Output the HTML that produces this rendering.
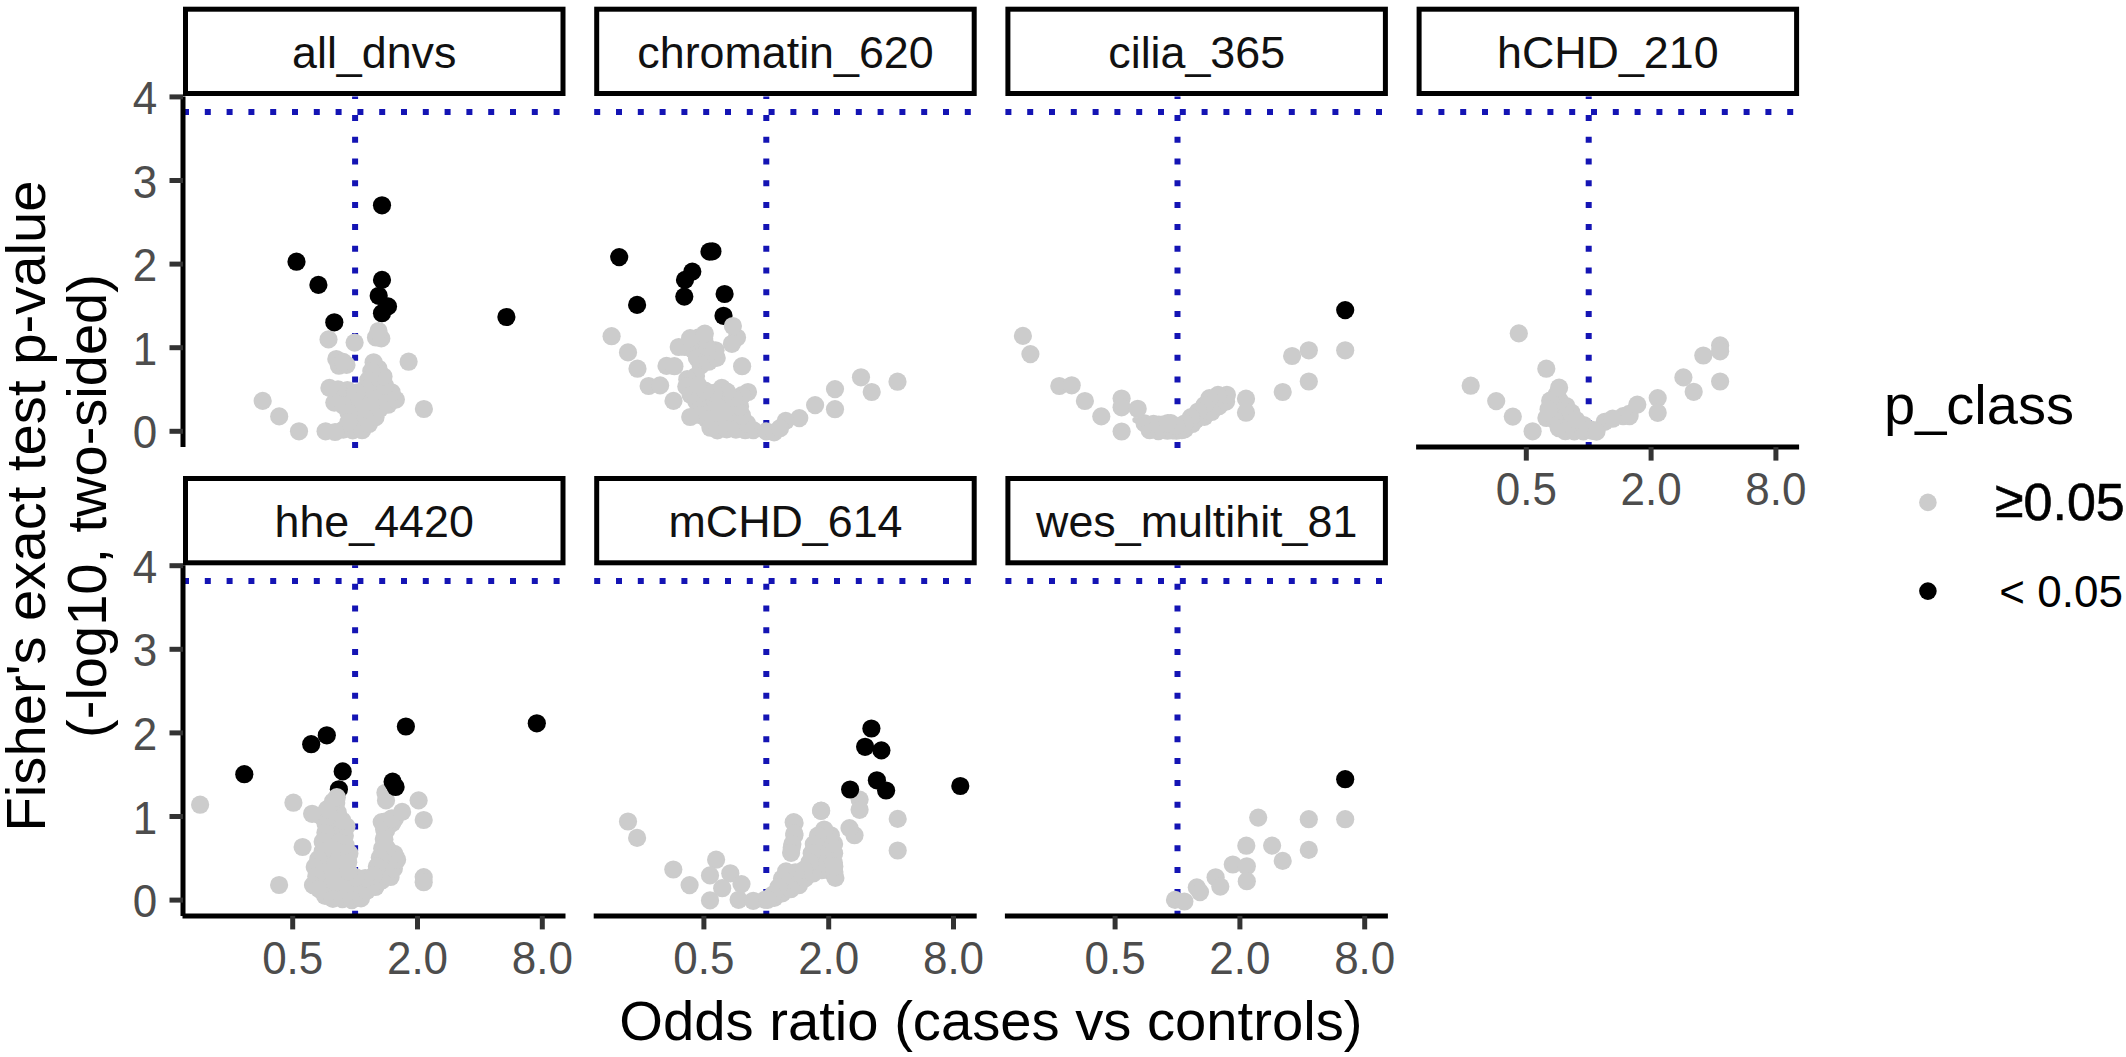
<!DOCTYPE html><html><head><meta charset="utf-8"><style>html,body{margin:0;padding:0;background:#fff;}svg{display:block}</style></head><body>
<svg width="2126" height="1057" viewBox="0 0 2126 1057" font-family='"Liberation Sans", Arial, Helvetica, sans-serif'>
<rect x="0" y="0" width="2126" height="1057" fill="#fff"/>
<line x1="183.0" y1="112.1" x2="565.5" y2="112.1" stroke="#1414b4" stroke-width="6" stroke-dasharray="6 15.8"/>
<line x1="355.1" y1="447.9" x2="355.1" y2="96.5" stroke="#1414b4" stroke-width="6" stroke-dasharray="6 15.8"/>
<line x1="594.2" y1="112.1" x2="976.7" y2="112.1" stroke="#1414b4" stroke-width="6" stroke-dasharray="6 15.8"/>
<line x1="766.3" y1="447.9" x2="766.3" y2="96.5" stroke="#1414b4" stroke-width="6" stroke-dasharray="6 15.8"/>
<line x1="1005.4" y1="112.1" x2="1387.9" y2="112.1" stroke="#1414b4" stroke-width="6" stroke-dasharray="6 15.8"/>
<line x1="1177.5" y1="447.9" x2="1177.5" y2="96.5" stroke="#1414b4" stroke-width="6" stroke-dasharray="6 15.8"/>
<line x1="1416.6" y1="112.1" x2="1799.1" y2="112.1" stroke="#1414b4" stroke-width="6" stroke-dasharray="6 15.8"/>
<line x1="1588.7" y1="447.9" x2="1588.7" y2="96.5" stroke="#1414b4" stroke-width="6" stroke-dasharray="6 15.8"/>
<line x1="183.0" y1="580.9" x2="565.5" y2="580.9" stroke="#1414b4" stroke-width="6" stroke-dasharray="6 15.8"/>
<line x1="355.1" y1="916.7" x2="355.1" y2="565.3" stroke="#1414b4" stroke-width="6" stroke-dasharray="6 15.8"/>
<line x1="594.2" y1="580.9" x2="976.7" y2="580.9" stroke="#1414b4" stroke-width="6" stroke-dasharray="6 15.8"/>
<line x1="766.3" y1="916.7" x2="766.3" y2="565.3" stroke="#1414b4" stroke-width="6" stroke-dasharray="6 15.8"/>
<line x1="1005.4" y1="580.9" x2="1387.9" y2="580.9" stroke="#1414b4" stroke-width="6" stroke-dasharray="6 15.8"/>
<line x1="1177.5" y1="916.7" x2="1177.5" y2="565.3" stroke="#1414b4" stroke-width="6" stroke-dasharray="6 15.8"/>
<path d="M371.7,329.8 L371.6,330.1 L371.4,330.3 L371.4,330.5 L371.3,330.7 L371.3,330.9 L371.2,331.2 L370.8,337.4 L370.8,337.7 L370.8,337.9 L370.8,338.3 L371.8,342.7 L371.9,343.0 L371.9,343.2 L372.0,343.4 L372.2,343.6 L372.3,343.8 L372.5,343.9 L372.6,344.1 L372.8,344.2 L373.0,344.4 L373.2,344.4 L373.5,344.6 L377.2,345.6 L377.5,345.7 L377.7,345.7 L377.9,345.7 L378.1,345.7 L378.4,345.7 L378.7,345.6 L383.2,344.3 L383.6,344.2 L383.8,344.1 L384.0,344.0 L384.2,343.8 L384.4,343.6 L384.5,343.5 L384.7,343.3 L384.8,343.0 L386.5,339.6 L386.6,339.4 L386.7,339.1 L386.7,338.9 L386.8,338.7 L386.8,338.5 L386.8,338.3 L386.7,338.0 L385.5,331.6 L385.5,331.3 L385.4,331.1 L385.3,330.9 L385.2,330.7 L385.1,330.5 L384.9,330.3 L381.1,326.2 L380.9,325.9 L380.7,325.8 L380.5,325.7 L380.3,325.5 L380.1,325.5 L379.8,325.4 L379.6,325.3 L379.4,325.3 L379.0,325.3 L376.0,325.6 L375.6,325.6 L375.4,325.6 L375.2,325.7 L375.0,325.8 L374.8,325.9 L374.6,326.0 L374.4,326.2 L374.3,326.4 L374.1,326.6Z" fill="#cccccc"/>
<circle cx="376.0" cy="337.5" r="9.1" fill="#cccccc"/>
<circle cx="381.3" cy="338.4" r="9.1" fill="#cccccc"/>
<circle cx="378.5" cy="331.0" r="9.1" fill="#cccccc"/>
<path d="M331.7,393.5 L331.9,393.8 L332.1,394.1 L332.2,394.4 L332.3,394.8 L332.4,395.1 L332.4,395.5 L332.4,395.8 L332.4,396.2 L332.3,396.6 L332.2,396.9 L332.1,397.2 L331.9,397.6 L331.7,397.9 L331.5,398.1 L331.2,398.4 L330.9,398.6 L330.6,398.8 L330.5,398.9 L330.3,399.0 L329.4,399.4 L329.1,399.6 L328.9,399.7 L328.7,399.9 L328.6,400.0 L328.4,400.2 L328.3,400.4 L328.2,400.6 L328.1,400.8 L328.0,401.0 L328.0,401.3 L327.9,402.0 L327.9,402.4 L327.9,402.6 L327.9,402.9 L327.9,403.1 L328.0,403.3 L328.1,403.5 L328.2,403.8 L328.4,403.9 L328.6,404.2 L331.2,406.8 L331.5,407.1 L331.7,407.2 L331.9,407.3 L332.1,407.4 L332.4,407.5 L340.6,410.0 L340.8,410.1 L341.0,410.1 L341.3,410.2 L341.6,410.4 L341.9,410.6 L342.2,410.8 L342.4,411.1 L342.7,411.4 L342.9,411.7 L343.0,412.0 L343.2,412.3 L343.3,412.6 L343.3,413.0 L343.4,413.4 L343.4,413.5 L343.4,413.7 L343.4,421.3 L343.4,421.5 L343.4,421.7 L343.3,422.0 L343.3,422.4 L343.2,422.7 L343.0,423.0 L342.8,423.4 L342.6,423.7 L342.4,423.9 L342.2,424.2 L341.9,424.4 L341.6,424.6 L341.2,424.8 L340.9,424.9 L340.6,425.0 L340.4,425.0 L340.2,425.1 L329.6,427.0 L329.5,427.0 L324.0,428.3 L323.7,428.4 L323.4,428.4 L323.2,428.5 L323.0,428.7 L322.8,428.8 L322.7,429.0 L322.5,429.2 L322.4,429.4 L322.3,429.6 L322.2,429.9 L322.1,430.1 L322.0,430.4 L321.9,430.7 L321.9,430.9 L321.9,431.1 L321.9,431.4 L322.0,431.6 L322.0,431.8 L322.1,432.0 L322.2,432.2 L322.4,432.4 L322.6,432.7 L323.9,434.1 L324.1,434.3 L324.3,434.5 L324.5,434.6 L324.7,434.7 L324.9,434.8 L325.1,434.9 L325.3,434.9 L325.6,435.0 L333.5,435.7 L333.8,435.7 L334.1,435.7 L343.2,434.8 L343.4,434.7 L343.5,434.7 L343.9,434.7 L344.0,434.7 L344.2,434.8 L353.6,435.7 L354.0,435.7 L361.5,435.7 L361.9,435.7 L362.1,435.7 L362.5,435.6 L365.5,434.5 L365.8,434.4 L366.1,434.3 L366.3,434.2 L366.4,434.0 L366.6,433.9 L366.8,433.6 L368.5,431.3 L368.7,431.2 L368.8,431.1 L369.0,430.8 L369.1,430.7 L369.3,430.5 L375.7,425.1 L375.9,424.9 L376.1,424.7 L379.9,420.1 L380.1,419.8 L380.2,419.7 L380.3,419.5 L380.4,419.2 L382.0,414.5 L382.0,414.3 L382.1,414.2 L382.2,413.9 L382.4,413.6 L382.6,413.3 L382.8,413.0 L383.1,412.8 L383.4,412.5 L383.7,412.3 L383.8,412.3 L384.0,412.2 L387.6,410.4 L387.8,410.3 L388.2,410.1 L388.5,410.0 L393.1,408.5 L393.4,408.3 L393.6,408.3 L393.8,408.1 L394.0,408.0 L397.7,405.0 L398.1,404.7 L400.9,401.8 L401.1,401.6 L401.3,401.4 L401.4,401.2 L401.5,401.0 L401.6,400.8 L401.6,400.6 L401.7,400.3 L401.7,400.0 L401.7,397.4 L401.7,397.1 L401.6,396.9 L401.6,396.7 L401.5,396.5 L401.4,396.3 L401.3,396.0 L397.9,390.7 L397.8,390.4 L397.6,390.3 L397.4,390.1 L397.2,389.9 L391.4,385.8 L391.3,385.7 L391.2,385.6 L390.9,385.4 L390.7,385.1 L390.5,384.8 L390.3,384.6 L390.1,384.3 L390.0,383.9 L389.9,383.6 L389.8,383.3 L389.8,383.2 L389.8,383.0 L389.0,375.7 L388.9,375.4 L388.9,375.2 L388.8,375.0 L388.7,374.8 L388.5,374.5 L383.5,367.0 L383.4,366.8 L383.3,366.7 L383.1,366.3 L383.1,366.2 L383.0,366.0 L380.7,359.9 L380.6,359.6 L380.5,359.4 L380.3,359.2 L380.2,359.1 L380.0,358.9 L379.8,358.7 L377.4,356.9 L377.2,356.7 L377.0,356.6 L376.7,356.5 L376.5,356.5 L376.3,356.4 L376.0,356.4 L375.8,356.4 L375.5,356.4 L371.8,357.1 L371.5,357.1 L371.3,357.2 L371.0,357.3 L370.8,357.4 L370.6,357.6 L370.5,357.7 L370.3,357.9 L370.1,358.2 L366.7,363.3 L366.5,363.6 L366.4,363.8 L366.3,364.0 L366.3,364.2 L366.3,364.4 L366.2,364.8 L366.2,369.7 L366.2,369.8 L366.2,370.0 L366.2,370.3 L366.1,370.6 L366.1,370.9 L366.0,371.1 L366.0,371.2 L363.1,378.9 L363.0,379.0 L361.1,384.7 L361.1,384.9 L361.0,385.0 L360.9,385.4 L360.7,385.7 L360.5,386.0 L360.2,386.2 L360.0,386.5 L359.7,386.7 L359.4,386.9 L359.1,387.1 L358.7,387.2 L358.4,387.3 L358.0,387.3 L357.6,387.4 L357.3,387.3 L356.9,387.3 L356.8,387.3 L356.6,387.2 L352.8,386.3 L352.8,386.3 L352.7,386.2 L352.6,386.2 L346.6,384.5 L346.3,384.4 L346.1,384.4 L345.8,384.4 L340.9,384.4 L340.7,384.4 L340.3,384.3 L340.1,384.3 L333.6,383.5 L333.3,383.5 L333.1,383.5 L332.8,383.5 L332.5,383.6 L330.2,384.3 L330.0,384.4 L329.7,384.4 L329.6,384.6 L329.4,384.7 L329.2,384.8 L329.0,385.0 L328.9,385.2 L328.8,385.4 L328.7,385.6 L328.6,385.8 L328.5,386.1 L328.1,387.5 L328.1,387.8 L328.1,388.0 L328.1,388.3 L328.1,388.5 L328.1,388.7 L328.2,388.9 L328.2,389.1 L328.3,389.3 L328.5,389.5 L328.6,389.8 L331.5,393.2 L331.6,393.3Z" fill="#cccccc"/>
<circle cx="343.3" cy="429.6" r="9.1" fill="#cccccc"/>
<circle cx="352.7" cy="430.4" r="9.1" fill="#cccccc"/>
<circle cx="362.1" cy="430.2" r="9.1" fill="#cccccc"/>
<circle cx="369.0" cy="424.0" r="9.1" fill="#cccccc"/>
<circle cx="375.5" cy="417.2" r="9.1" fill="#cccccc"/>
<circle cx="379.7" cy="408.9" r="9.1" fill="#cccccc"/>
<circle cx="388.1" cy="404.7" r="9.1" fill="#cccccc"/>
<circle cx="395.9" cy="399.6" r="9.1" fill="#cccccc"/>
<circle cx="391.6" cy="392.3" r="9.1" fill="#cccccc"/>
<circle cx="385.1" cy="385.7" r="9.1" fill="#cccccc"/>
<circle cx="383.5" cy="376.4" r="9.1" fill="#cccccc"/>
<circle cx="378.4" cy="368.5" r="9.1" fill="#cccccc"/>
<circle cx="373.6" cy="362.3" r="9.1" fill="#cccccc"/>
<circle cx="371.3" cy="371.1" r="9.1" fill="#cccccc"/>
<circle cx="368.2" cy="380.1" r="9.1" fill="#cccccc"/>
<circle cx="364.8" cy="388.9" r="9.1" fill="#cccccc"/>
<circle cx="356.5" cy="392.5" r="9.1" fill="#cccccc"/>
<circle cx="347.4" cy="390.1" r="9.1" fill="#cccccc"/>
<circle cx="338.0" cy="389.3" r="9.1" fill="#cccccc"/>
<circle cx="337.5" cy="394.2" r="9.1" fill="#cccccc"/>
<circle cx="334.3" cy="402.6" r="9.1" fill="#cccccc"/>
<circle cx="343.3" cy="405.5" r="9.1" fill="#cccccc"/>
<circle cx="348.5" cy="412.8" r="9.1" fill="#cccccc"/>
<circle cx="348.5" cy="422.3" r="9.1" fill="#cccccc"/>
<path d="M332.6,354.9 L332.3,355.1 L332.1,355.2 L331.9,355.3 L331.7,355.5 L331.6,355.6 L331.4,355.8 L331.3,356.0 L331.2,356.2 L331.1,356.4 L331.1,356.7 L331.0,356.9 L331.0,357.1 L331.0,357.4 L331.4,362.5 L331.4,362.8 L331.5,363.1 L331.6,363.4 L333.5,367.9 L333.7,368.2 L333.8,368.4 L333.9,368.6 L334.1,368.7 L334.3,369.0 L336.2,370.4 L336.4,370.6 L336.6,370.7 L336.8,370.8 L337.0,370.9 L337.2,370.9 L337.4,371.0 L337.6,371.0 L337.9,371.0 L343.1,370.7 L343.5,370.6 L349.6,369.6 L349.9,369.5 L350.1,369.5 L350.3,369.4 L350.5,369.3 L350.7,369.2 L350.9,369.0 L351.0,368.9 L351.2,368.6 L352.8,366.5 L353.0,366.2 L353.1,366.0 L353.2,365.8 L353.3,365.6 L353.3,365.3 L353.3,365.1 L353.3,364.8 L353.2,362.5 L353.1,362.1 L353.1,361.9 L353.0,361.7 L352.9,361.4 L352.8,361.2 L352.6,361.0 L352.4,360.8 L350.3,358.7 L350.1,358.5 L349.9,358.4 L349.8,358.3 L349.6,358.2 L349.4,358.1 L349.1,358.0 L343.0,356.5 L342.8,356.4 L342.6,356.4 L342.3,356.2 L341.9,356.0 L341.7,356.0 L341.6,355.9 L338.4,353.8 L338.2,353.6 L338.0,353.5 L337.7,353.4 L337.5,353.4 L337.3,353.3 L337.1,353.3 L336.8,353.3 L336.6,353.4 L336.4,353.4 L336.1,353.5Z" fill="#cccccc"/>
<circle cx="336.3" cy="359.0" r="9.1" fill="#cccccc"/>
<circle cx="338.9" cy="365.7" r="9.1" fill="#cccccc"/>
<circle cx="346.5" cy="364.9" r="9.1" fill="#cccccc"/>
<circle cx="343.2" cy="361.9" r="9.1" fill="#cccccc"/>
<path d="M674.8,345.6 L674.6,345.9 L674.5,346.1 L674.5,346.3 L674.4,346.6 L674.4,346.8 L674.4,347.0 L674.4,347.3 L674.4,347.6 L674.6,348.5 L674.7,348.8 L674.8,349.0 L674.9,349.2 L675.0,349.4 L675.1,349.6 L675.3,349.8 L675.5,349.9 L675.7,350.1 L676.0,350.2 L678.5,351.5 L678.8,351.6 L679.0,351.7 L679.2,351.8 L679.6,351.8 L687.1,352.3 L687.2,352.4 L687.4,352.4 L687.7,352.4 L688.1,352.5 L688.4,352.7 L688.7,352.8 L689.0,353.0 L689.3,353.2 L689.6,353.5 L689.8,353.7 L690.0,354.0 L690.2,354.3 L690.3,354.7 L690.4,354.8 L690.5,355.0 L692.7,361.8 L692.9,362.1 L693.0,362.4 L695.2,366.2 L695.2,366.3 L695.3,366.5 L695.4,366.8 L695.6,367.1 L695.6,367.4 L695.7,367.8 L695.7,368.1 L695.7,368.5 L695.6,368.8 L695.5,369.2 L695.4,369.5 L695.3,369.8 L695.1,370.1 L694.9,370.4 L694.6,370.7 L694.4,370.9 L694.1,371.1 L693.8,371.3 L693.5,371.4 L693.4,371.5 L693.2,371.6 L688.3,373.4 L688.2,373.4 L688.1,373.5 L688.1,373.5 L682.8,375.3 L682.5,375.4 L682.3,375.5 L682.1,375.6 L681.9,375.7 L681.8,375.9 L681.6,376.0 L681.5,376.2 L681.3,376.5 L679.7,379.5 L679.5,379.8 L679.5,380.0 L679.4,380.2 L679.4,380.4 L679.3,380.6 L679.3,380.8 L679.4,381.1 L680.1,386.0 L680.2,386.3 L680.3,386.6 L680.4,386.8 L680.5,387.1 L684.6,393.5 L684.7,393.7 L684.8,393.8 L685.0,394.2 L685.0,394.4 L685.1,394.6 L687.2,400.7 L687.3,401.1 L687.4,401.3 L687.6,401.5 L687.7,401.7 L687.9,401.9 L688.2,402.1 L692.8,405.3 L692.9,405.4 L693.0,405.5 L693.3,405.7 L693.5,405.9 L693.7,406.2 L693.9,406.5 L694.1,406.8 L694.2,407.2 L694.3,407.5 L694.4,407.9 L694.4,408.2 L694.4,408.6 L694.4,408.9 L694.3,409.3 L694.2,409.6 L694.0,409.9 L693.9,410.3 L693.7,410.5 L693.4,410.8 L693.2,411.1 L692.9,411.3 L692.6,411.5 L692.3,411.6 L692.2,411.7 L692.0,411.8 L688.1,413.3 L687.8,413.5 L687.6,413.6 L687.4,413.7 L687.3,413.9 L687.1,414.0 L687.0,414.2 L686.9,414.4 L686.7,414.7 L686.1,416.1 L686.0,416.4 L685.9,416.6 L685.9,416.9 L685.8,417.1 L685.9,417.3 L685.9,417.5 L685.9,417.8 L686.0,418.0 L686.1,418.3 L686.5,419.1 L686.7,419.4 L686.8,419.6 L687.0,419.7 L687.1,419.9 L687.3,420.0 L687.5,420.2 L687.7,420.3 L688.0,420.4 L691.4,421.5 L691.7,421.6 L691.9,421.7 L692.2,421.7 L692.4,421.7 L692.6,421.6 L692.9,421.6 L698.0,420.2 L698.2,420.1 L698.3,420.1 L698.7,420.1 L699.0,420.0 L699.4,420.0 L699.7,420.1 L700.1,420.2 L700.4,420.3 L700.7,420.4 L701.0,420.6 L701.3,420.8 L701.6,421.0 L701.8,421.3 L702.1,421.6 L702.3,421.9 L702.3,422.0 L702.4,422.2 L704.8,427.0 L704.9,427.2 L705.0,427.3 L705.1,427.6 L705.2,428.0 L705.2,428.1 L705.2,428.3 L706.0,432.3 L706.1,432.6 L706.1,432.9 L706.2,433.1 L706.3,433.3 L706.5,433.4 L706.6,433.6 L706.8,433.8 L707.0,433.9 L707.2,434.1 L710.0,435.7 L710.3,435.9 L710.6,436.0 L710.8,436.0 L711.0,436.1 L711.3,436.1 L711.6,436.1 L719.7,435.4 L719.9,435.4 L729.8,434.1 L730.0,434.1 L730.1,434.1 L730.4,434.1 L730.7,434.1 L730.9,434.1 L731.0,434.1 L739.3,435.3 L739.9,435.4 L748.1,435.4 L748.3,435.4 L748.5,435.4 L748.7,435.4 L763.9,436.5 L764.2,436.6 L764.5,436.5 L764.7,436.5 L765.0,436.4 L774.7,433.5 L775.0,433.4 L775.2,433.3 L775.4,433.2 L775.6,433.0 L775.8,432.9 L776.0,432.6 L777.6,430.7 L777.8,430.4 L777.9,430.2 L778.0,430.0 L778.1,429.8 L778.1,429.5 L778.2,429.3 L778.2,429.1 L778.1,428.9 L778.1,428.6 L778.1,428.4 L778.0,428.2 L777.9,428.0 L777.8,427.8 L777.6,427.6 L777.5,427.4 L777.3,427.3 L777.1,427.1 L776.9,427.0 L776.7,426.9 L776.5,426.9 L776.3,426.8 L776.0,426.8 L775.8,426.8 L775.6,426.8 L775.3,426.8 L775.1,426.9 L774.9,426.9 L774.7,427.0 L774.4,427.2 L773.4,427.9 L773.2,428.0 L773.1,428.1 L772.8,428.2 L772.5,428.4 L772.1,428.5 L771.8,428.5 L771.4,428.6 L771.3,428.6 L771.1,428.6 L761.2,428.6 L761.0,428.6 L760.9,428.6 L760.5,428.5 L760.2,428.5 L759.9,428.4 L759.6,428.3 L759.3,428.1 L759.0,427.9 L758.9,427.9 L758.7,427.8 L753.8,424.1 L753.7,424.0 L753.6,423.9 L753.4,423.7 L753.1,423.4 L752.9,423.2 L752.9,423.1 L752.8,422.9 L746.5,413.0 L746.4,412.8 L746.4,412.7 L746.2,412.3 L746.1,412.0 L746.0,411.6 L745.9,411.4 L745.9,411.3 L744.7,402.6 L744.7,402.4 L744.6,402.3 L744.6,401.9 L744.6,401.6 L744.7,401.3 L744.8,400.9 L744.9,400.6 L745.0,400.3 L745.2,400.0 L745.4,399.7 L745.7,399.4 L745.9,399.2 L746.2,399.0 L746.5,398.8 L746.6,398.7 L746.8,398.6 L750.5,396.8 L750.8,396.6 L751.0,396.5 L751.2,396.3 L751.4,396.0 L753.5,393.4 L753.7,393.1 L753.8,392.9 L753.9,392.7 L754.0,392.5 L754.1,392.2 L754.1,392.0 L754.1,391.8 L754.1,391.5 L754.0,391.3 L754.0,391.0 L753.2,388.7 L753.1,388.4 L753.0,388.2 L752.8,388.0 L752.7,387.8 L752.5,387.6 L752.3,387.5 L752.1,387.3 L749.1,385.6 L748.8,385.4 L748.6,385.3 L748.3,385.3 L748.1,385.2 L747.8,385.2 L747.6,385.2 L747.4,385.3 L747.1,385.3 L746.8,385.4 L743.2,386.9 L742.9,387.1 L742.7,387.2 L742.5,387.3 L742.3,387.6 L738.2,391.7 L738.0,391.8 L737.9,391.9 L737.7,392.1 L737.4,392.3 L737.1,392.5 L736.7,392.6 L736.4,392.7 L736.1,392.8 L735.7,392.8 L735.3,392.8 L735.0,392.8 L734.7,392.7 L734.3,392.6 L734.0,392.5 L733.7,392.3 L733.4,392.1 L733.1,391.9 L732.8,391.7 L732.6,391.4 L732.4,391.1 L732.2,390.8 L732.1,390.5 L732.0,390.4 L732.0,390.2 L730.1,384.4 L730.0,384.1 L729.9,383.9 L729.7,383.8 L729.6,383.6 L729.4,383.4 L729.2,383.2 L726.9,381.3 L726.6,381.2 L726.4,381.0 L726.2,380.9 L726.0,380.9 L725.8,380.8 L725.5,380.8 L725.3,380.8 L725.1,380.8 L724.8,380.8 L724.5,380.9 L721.1,382.1 L720.9,382.2 L720.7,382.2 L720.5,382.4 L720.3,382.5 L714.9,386.8 L714.7,386.9 L714.6,387.0 L714.3,387.2 L714.0,387.4 L713.7,387.5 L713.4,387.6 L713.0,387.7 L712.7,387.7 L712.3,387.7 L712.0,387.7 L711.6,387.6 L711.3,387.5 L711.2,387.5 L711.0,387.4 L704.9,385.0 L704.7,384.9 L704.6,384.8 L704.3,384.7 L704.0,384.5 L703.7,384.3 L703.5,384.0 L703.3,383.8 L703.1,383.5 L702.9,383.2 L702.7,382.9 L702.6,382.6 L702.6,382.4 L702.5,382.3 L701.3,377.4 L701.3,377.3 L701.3,377.1 L701.2,376.8 L701.2,376.4 L701.2,376.0 L701.3,375.7 L701.4,375.3 L701.5,375.0 L701.6,374.8 L701.6,374.6 L704.1,369.8 L704.2,369.6 L704.2,369.5 L704.4,369.2 L704.6,368.9 L704.9,368.7 L705.2,368.4 L705.5,368.2 L705.8,368.0 L706.1,367.9 L706.3,367.8 L706.4,367.8 L715.5,364.9 L715.9,364.8 L716.1,364.7 L716.4,364.5 L720.6,361.6 L720.8,361.4 L721.0,361.2 L721.2,361.0 L721.3,360.9 L721.5,360.6 L723.4,356.7 L723.5,356.4 L723.6,356.1 L723.7,355.9 L723.7,355.7 L723.7,355.5 L723.7,355.2 L723.6,355.0 L723.6,354.7 L722.2,350.6 L722.1,350.3 L722.0,350.1 L721.9,349.9 L721.7,349.7 L718.3,345.6 L718.1,345.3 L717.9,345.2 L717.8,345.1 L717.6,344.9 L717.4,344.8 L717.1,344.8 L716.9,344.7 L716.6,344.7 L712.9,344.3 L712.7,344.3 L712.6,344.2 L712.2,344.2 L711.9,344.1 L711.6,343.9 L711.2,343.7 L710.9,343.5 L710.7,343.3 L710.4,343.0 L710.2,342.8 L710.0,342.4 L709.8,342.1 L709.7,341.8 L709.6,341.4 L709.5,341.1 L709.5,340.9 L709.5,340.7 L709.0,334.0 L709.0,333.7 L709.0,333.5 L708.9,333.2 L708.8,333.0 L708.6,332.8 L708.5,332.6 L708.3,332.4 L708.1,332.2 L706.2,330.7 L706.0,330.5 L705.8,330.4 L705.5,330.3 L705.3,330.2 L705.1,330.2 L704.8,330.2 L704.6,330.2 L704.3,330.2 L704.0,330.2 L699.8,331.3 L699.3,331.5 L693.6,333.7 L693.4,333.8 L693.0,333.9 L692.7,334.0 L688.3,335.1 L688.0,335.2 L687.8,335.3 L687.6,335.4 L687.5,335.5 L687.3,335.7 L687.1,335.8 L687.0,336.0 L686.8,336.2 L686.7,336.3 L686.6,336.6 L685.3,339.9 L685.2,340.1 L685.1,340.3 L685.0,340.6 L684.8,340.9 L684.5,341.2 L684.3,341.4 L684.0,341.7 L683.7,341.9 L683.3,342.1 L683.0,342.2 L682.6,342.3 L682.5,342.3 L682.3,342.4 L677.4,343.2 L677.1,343.2 L676.9,343.3 L676.7,343.4 L676.5,343.5 L676.3,343.7 L676.1,343.8 L675.9,344.0 L675.7,344.3Z" fill="#cccccc"/>
<circle cx="684.9" cy="347.0" r="9.1" fill="#cccccc"/>
<circle cx="693.2" cy="349.8" r="9.1" fill="#cccccc"/>
<circle cx="696.9" cy="357.9" r="9.1" fill="#cccccc"/>
<circle cx="700.7" cy="365.5" r="9.1" fill="#cccccc"/>
<circle cx="708.7" cy="361.7" r="9.1" fill="#cccccc"/>
<circle cx="716.7" cy="357.9" r="9.1" fill="#cccccc"/>
<circle cx="715.5" cy="350.3" r="9.1" fill="#cccccc"/>
<circle cx="707.3" cy="347.2" r="9.1" fill="#cccccc"/>
<circle cx="704.2" cy="339.1" r="9.1" fill="#cccccc"/>
<circle cx="698.8" cy="337.3" r="9.1" fill="#cccccc"/>
<circle cx="690.7" cy="340.5" r="9.1" fill="#cccccc"/>
<circle cx="696.0" cy="376.0" r="9.1" fill="#cccccc"/>
<circle cx="687.3" cy="379.2" r="9.1" fill="#cccccc"/>
<circle cx="686.3" cy="386.6" r="9.1" fill="#cccccc"/>
<circle cx="690.6" cy="394.8" r="9.1" fill="#cccccc"/>
<circle cx="696.4" cy="401.5" r="9.1" fill="#cccccc"/>
<circle cx="699.5" cy="409.9" r="9.1" fill="#cccccc"/>
<circle cx="698.9" cy="414.8" r="9.1" fill="#cccccc"/>
<circle cx="706.7" cy="419.2" r="9.1" fill="#cccccc"/>
<circle cx="710.4" cy="427.7" r="9.1" fill="#cccccc"/>
<circle cx="717.4" cy="430.4" r="9.1" fill="#cccccc"/>
<circle cx="726.7" cy="429.3" r="9.1" fill="#cccccc"/>
<circle cx="735.9" cy="429.6" r="9.1" fill="#cccccc"/>
<circle cx="745.2" cy="430.2" r="9.1" fill="#cccccc"/>
<circle cx="753.3" cy="430.1" r="9.1" fill="#cccccc"/>
<circle cx="747.0" cy="423.4" r="9.1" fill="#cccccc"/>
<circle cx="742.0" cy="415.5" r="9.1" fill="#cccccc"/>
<circle cx="740.0" cy="406.5" r="9.1" fill="#cccccc"/>
<circle cx="740.7" cy="397.5" r="9.1" fill="#cccccc"/>
<circle cx="748.0" cy="392.0" r="9.1" fill="#cccccc"/>
<circle cx="742.0" cy="395.2" r="9.1" fill="#cccccc"/>
<circle cx="733.5" cy="397.8" r="9.1" fill="#cccccc"/>
<circle cx="727.0" cy="391.6" r="9.1" fill="#cccccc"/>
<circle cx="721.8" cy="387.9" r="9.1" fill="#cccccc"/>
<circle cx="714.0" cy="392.8" r="9.1" fill="#cccccc"/>
<circle cx="705.1" cy="390.6" r="9.1" fill="#cccccc"/>
<circle cx="698.0" cy="385.0" r="9.1" fill="#cccccc"/>
<path d="M1133.1,417.8 L1132.9,418.0 L1132.7,418.2 L1132.6,418.4 L1132.5,418.6 L1132.4,418.9 L1132.4,419.1 L1132.3,419.3 L1132.3,419.5 L1132.3,419.8 L1132.4,420.1 L1132.5,420.9 L1132.6,421.2 L1132.7,421.4 L1132.8,421.7 L1132.9,421.9 L1133.1,422.0 L1133.2,422.2 L1133.4,422.4 L1133.6,422.5 L1133.8,422.6 L1134.1,422.8 L1138.2,424.4 L1138.3,424.5 L1138.5,424.5 L1138.8,424.7 L1139.1,424.9 L1139.4,425.2 L1139.7,425.4 L1139.9,425.7 L1140.1,426.0 L1140.2,426.2 L1140.3,426.3 L1143.5,432.8 L1143.7,433.0 L1143.8,433.2 L1143.9,433.4 L1144.1,433.6 L1144.3,433.7 L1144.5,433.8 L1144.7,433.9 L1144.9,434.0 L1151.6,436.4 L1151.9,436.5 L1152.2,436.6 L1152.4,436.6 L1152.7,436.6 L1166.0,435.9 L1166.1,435.9 L1166.3,435.9 L1166.4,435.9 L1182.4,435.9 L1182.7,435.9 L1182.9,435.9 L1183.1,435.8 L1183.3,435.8 L1183.6,435.6 L1190.3,432.3 L1190.7,432.1 L1191.0,431.9 L1200.4,424.0 L1200.7,423.7 L1200.8,423.6 L1201.0,423.4 L1201.1,423.2 L1201.2,423.0 L1201.3,422.8 L1201.3,422.5 L1201.3,422.3 L1201.4,422.0 L1201.4,409.4 L1201.3,409.1 L1201.3,408.9 L1201.3,408.6 L1201.2,408.4 L1201.1,408.2 L1201.0,408.0 L1200.8,407.8 L1200.7,407.6 L1200.5,407.5 L1200.3,407.3 L1200.1,407.2 L1199.9,407.1 L1199.7,407.1 L1199.4,407.0 L1199.2,407.0 L1199.0,407.0 L1198.7,407.0 L1198.5,407.0 L1198.3,407.1 L1198.1,407.2 L1197.9,407.3 L1197.6,407.4 L1197.4,407.5 L1197.3,407.6 L1197.1,407.7 L1190.2,411.2 L1189.9,411.3 L1189.7,411.5 L1189.5,411.6 L1189.3,411.8 L1189.2,412.0 L1189.0,412.2 L1184.2,420.7 L1184.1,420.9 L1184.0,421.0 L1183.8,421.3 L1183.6,421.6 L1183.3,421.8 L1183.0,422.0 L1182.7,422.2 L1182.4,422.4 L1182.0,422.5 L1181.7,422.6 L1181.3,422.6 L1181.0,422.7 L1180.6,422.6 L1180.3,422.6 L1179.9,422.5 L1179.6,422.4 L1179.2,422.2 L1179.1,422.2 L1179.0,422.1 L1172.7,418.3 L1172.4,418.2 L1172.1,418.1 L1171.8,418.0 L1167.7,417.2 L1167.4,417.1 L1167.2,417.1 L1166.9,417.1 L1166.7,417.1 L1166.5,417.2 L1166.3,417.3 L1166.0,417.4 L1162.2,419.3 L1162.0,419.4 L1161.9,419.4 L1161.5,419.6 L1161.2,419.7 L1160.8,419.7 L1160.4,419.7 L1160.0,419.7 L1159.9,419.7 L1159.7,419.7 L1151.6,418.3 L1151.3,418.3 L1151.1,418.3 L1145.9,418.3 L1145.7,418.3 L1145.4,418.2 L1145.2,418.2 L1135.1,417.1 L1134.8,417.1 L1134.6,417.1 L1134.3,417.1 L1134.1,417.2 L1133.9,417.3 L1133.7,417.4 L1133.5,417.5 L1133.3,417.6Z" fill="#cccccc"/>
<circle cx="1144.6" cy="423.4" r="9.1" fill="#cccccc"/>
<circle cx="1149.7" cy="430.2" r="9.1" fill="#cccccc"/>
<circle cx="1158.4" cy="431.1" r="9.1" fill="#cccccc"/>
<circle cx="1167.4" cy="430.7" r="9.1" fill="#cccccc"/>
<circle cx="1176.4" cy="430.7" r="9.1" fill="#cccccc"/>
<circle cx="1185.0" cy="429.1" r="9.1" fill="#cccccc"/>
<circle cx="1192.3" cy="424.0" r="9.1" fill="#cccccc"/>
<circle cx="1196.2" cy="416.8" r="9.1" fill="#cccccc"/>
<circle cx="1191.8" cy="417.9" r="9.1" fill="#cccccc"/>
<circle cx="1187.0" cy="425.5" r="9.1" fill="#cccccc"/>
<circle cx="1178.6" cy="427.5" r="9.1" fill="#cccccc"/>
<circle cx="1170.8" cy="423.2" r="9.1" fill="#cccccc"/>
<circle cx="1162.4" cy="424.7" r="9.1" fill="#cccccc"/>
<circle cx="1153.5" cy="423.9" r="9.1" fill="#cccccc"/>
<path d="M1156.1,419.5 L1155.8,419.5 L1155.5,419.5 L1155.3,419.6 L1155.1,419.7 L1154.9,419.8 L1154.7,419.9 L1154.5,420.0 L1154.3,420.2 L1154.2,420.3 L1154.0,420.5 L1153.9,420.7 L1153.8,420.9 L1153.7,421.2 L1153.7,421.4 L1153.7,421.6 L1153.6,421.9 L1153.6,431.1 L1153.7,431.5 L1153.7,431.7 L1153.7,431.9 L1153.8,432.1 L1153.9,432.3 L1154.0,432.5 L1154.2,432.7 L1154.3,432.9 L1154.5,433.0 L1154.7,433.2 L1154.9,433.3 L1155.1,433.4 L1155.3,433.5 L1155.6,433.6 L1165.7,435.6 L1166.0,435.6 L1166.3,435.6 L1180.7,435.6 L1180.9,435.6 L1181.2,435.6 L1186.9,434.6 L1187.2,434.6 L1187.4,434.5 L1187.6,434.4 L1187.8,434.3 L1188.0,434.2 L1188.2,434.0 L1188.3,433.9 L1188.5,433.7 L1188.6,433.5 L1188.7,433.3 L1190.4,430.0 L1190.5,429.8 L1190.5,429.7 L1190.7,429.4 L1190.9,429.1 L1191.2,428.9 L1191.4,428.6 L1191.7,428.4 L1191.8,428.4 L1192.0,428.3 L1199.5,423.7 L1199.7,423.6 L1199.8,423.6 L1200.1,423.4 L1200.4,423.3 L1200.5,423.3 L1200.7,423.2 L1209.9,420.6 L1210.2,420.5 L1210.4,420.4 L1210.6,420.3 L1210.8,420.1 L1211.0,419.9 L1216.0,415.0 L1216.2,414.8 L1216.5,414.5 L1216.7,414.4 L1222.7,409.9 L1222.8,409.8 L1222.9,409.7 L1223.2,409.5 L1223.5,409.4 L1223.6,409.4 L1223.7,409.3 L1228.7,407.3 L1229.0,407.2 L1229.2,407.0 L1229.4,406.9 L1229.6,406.8 L1229.7,406.6 L1229.9,406.4 L1230.0,406.2 L1230.1,406.0 L1230.2,405.7 L1230.8,403.9 L1230.9,403.7 L1230.9,403.6 L1231.1,403.3 L1231.2,403.0 L1231.4,402.7 L1231.6,402.5 L1231.7,402.4 L1231.8,402.2 L1234.1,400.0 L1234.3,399.7 L1234.4,399.6 L1234.6,399.4 L1234.7,399.2 L1234.7,398.9 L1234.8,398.7 L1234.8,398.5 L1234.8,398.3 L1234.8,398.0 L1234.8,397.7 L1234.3,395.2 L1234.2,394.9 L1234.1,394.7 L1234.0,394.5 L1233.9,394.3 L1233.8,394.1 L1233.7,393.9 L1233.5,393.7 L1229.1,389.8 L1228.9,389.6 L1228.7,389.5 L1228.5,389.4 L1228.3,389.3 L1228.0,389.2 L1227.8,389.2 L1227.6,389.2 L1227.3,389.2 L1216.9,389.7 L1216.5,389.8 L1216.3,389.8 L1215.9,390.0 L1204.2,394.6 L1204.0,394.8 L1203.8,394.9 L1203.6,395.0 L1203.4,395.1 L1203.3,395.3 L1203.1,395.5 L1203.0,395.7 L1202.9,395.9 L1202.8,396.1 L1202.7,396.4 L1202.0,399.4 L1201.9,399.6 L1201.9,399.7 L1201.8,400.0 L1201.6,400.3 L1201.5,400.6 L1201.3,400.9 L1201.1,401.1 L1201.0,401.2 L1200.9,401.3 L1193.3,408.9 L1193.1,409.1 L1192.8,409.4 L1192.6,409.5 L1187.0,413.7 L1186.5,414.1 L1180.8,419.9 L1180.7,420.0 L1180.6,420.1 L1180.3,420.3 L1180.0,420.5 L1179.7,420.7 L1179.4,420.8 L1179.0,420.9 L1178.7,421.0 L1178.3,421.0 L1178.0,421.0 L1177.6,421.0 L1177.3,420.9 L1177.0,420.9 L1176.6,420.7 L1176.5,420.7 L1176.3,420.6 L1170.6,417.7 L1170.3,417.6 L1170.1,417.5 L1169.9,417.5 L1169.7,417.5 L1169.5,417.5 L1169.2,417.5 L1168.9,417.5 L1160.3,419.4 L1160.1,419.4 L1159.9,419.4 L1159.6,419.5 L1159.4,419.5 L1159.2,419.5Z" fill="#cccccc"/>
<circle cx="1158.8" cy="424.7" r="9.1" fill="#cccccc"/>
<circle cx="1163.6" cy="429.9" r="9.1" fill="#cccccc"/>
<circle cx="1172.6" cy="430.4" r="9.1" fill="#cccccc"/>
<circle cx="1181.7" cy="430.2" r="9.1" fill="#cccccc"/>
<circle cx="1188.0" cy="424.7" r="9.1" fill="#cccccc"/>
<circle cx="1195.8" cy="419.9" r="9.1" fill="#cccccc"/>
<circle cx="1204.3" cy="416.8" r="9.1" fill="#cccccc"/>
<circle cx="1211.6" cy="412.0" r="9.1" fill="#cccccc"/>
<circle cx="1218.8" cy="406.3" r="9.1" fill="#cccccc"/>
<circle cx="1226.1" cy="401.6" r="9.1" fill="#cccccc"/>
<circle cx="1226.9" cy="394.8" r="9.1" fill="#cccccc"/>
<circle cx="1218.0" cy="394.9" r="9.1" fill="#cccccc"/>
<circle cx="1209.5" cy="398.1" r="9.1" fill="#cccccc"/>
<circle cx="1204.5" cy="405.1" r="9.1" fill="#cccccc"/>
<circle cx="1198.1" cy="411.5" r="9.1" fill="#cccccc"/>
<circle cx="1191.0" cy="417.2" r="9.1" fill="#cccccc"/>
<circle cx="1184.5" cy="423.5" r="9.1" fill="#cccccc"/>
<circle cx="1176.1" cy="426.0" r="9.1" fill="#cccccc"/>
<circle cx="1167.8" cy="423.1" r="9.1" fill="#cccccc"/>
<path d="M1544.5,404.7 L1544.5,405.1 L1544.4,405.5 L1544.4,405.6 L1544.3,405.8 L1542.0,412.7 L1541.9,413.0 L1541.9,413.3 L1541.1,418.6 L1541.1,418.9 L1541.1,419.1 L1541.1,419.4 L1541.2,419.6 L1541.2,419.8 L1541.3,420.1 L1541.5,420.3 L1541.6,420.5 L1541.8,420.7 L1543.3,422.2 L1543.6,422.4 L1543.8,422.6 L1544.0,422.7 L1544.2,422.8 L1544.4,422.9 L1544.8,423.0 L1550.3,423.9 L1550.5,423.9 L1550.6,423.9 L1551.0,424.0 L1551.3,424.2 L1551.6,424.3 L1551.9,424.5 L1552.2,424.8 L1552.5,425.0 L1552.7,425.3 L1552.9,425.6 L1553.1,425.9 L1553.2,426.2 L1553.4,426.6 L1553.4,427.0 L1553.5,427.3 L1553.5,427.5 L1553.5,427.6 L1553.5,431.3 L1553.5,431.6 L1553.5,431.9 L1553.6,432.1 L1553.7,432.3 L1553.8,432.5 L1553.9,432.7 L1554.0,432.9 L1554.2,433.1 L1555.9,434.8 L1556.2,435.1 L1556.4,435.2 L1556.6,435.3 L1556.8,435.4 L1557.0,435.5 L1557.2,435.5 L1557.5,435.6 L1567.7,436.6 L1568.1,436.6 L1587.7,436.6 L1588.2,436.6 L1596.7,435.7 L1597.0,435.6 L1597.2,435.5 L1597.4,435.5 L1597.6,435.4 L1597.8,435.2 L1598.0,435.1 L1598.2,434.9 L1598.4,434.7 L1601.8,430.5 L1601.9,430.3 L1602.2,430.1 L1602.3,429.9 L1607.2,425.0 L1607.3,424.9 L1607.4,424.8 L1607.7,424.6 L1608.0,424.4 L1608.3,424.2 L1608.6,424.1 L1609.0,424.0 L1609.1,423.9 L1609.3,423.9 L1621.8,421.4 L1621.9,421.4 L1622.1,421.3 L1622.5,421.3 L1622.6,421.3 L1622.8,421.3 L1630.6,421.3 L1630.9,421.3 L1631.1,421.3 L1631.5,421.2 L1634.6,420.2 L1634.9,420.1 L1635.1,420.0 L1635.3,419.9 L1635.5,419.8 L1635.7,419.6 L1635.8,419.4 L1636.0,419.2 L1636.1,419.0 L1636.2,418.8 L1636.3,418.6 L1636.3,418.4 L1636.3,418.2 L1636.4,417.8 L1636.4,407.9 L1636.3,407.6 L1636.3,407.4 L1636.3,407.2 L1636.2,406.9 L1636.1,406.7 L1635.9,406.5 L1635.8,406.3 L1635.6,406.2 L1635.5,406.0 L1635.3,405.9 L1635.1,405.7 L1634.9,405.7 L1634.6,405.6 L1634.4,405.5 L1634.2,405.5 L1633.9,405.5 L1633.7,405.5 L1633.5,405.6 L1633.2,405.6 L1633.0,405.7 L1632.8,405.8 L1632.6,405.9 L1632.4,406.1 L1632.3,406.3 L1632.1,406.5 L1631.9,406.7 L1631.7,407.0 L1631.4,407.2 L1631.1,407.5 L1630.8,407.7 L1630.5,407.8 L1630.3,407.9 L1630.1,408.0 L1620.1,411.7 L1610.0,415.5 L1609.9,415.6 L1601.9,419.0 L1601.6,419.1 L1601.5,419.2 L1601.2,419.4 L1595.6,423.9 L1595.5,424.0 L1595.4,424.1 L1595.1,424.3 L1594.7,424.4 L1594.4,424.6 L1594.0,424.7 L1593.7,424.7 L1593.3,424.7 L1592.9,424.7 L1592.6,424.7 L1592.2,424.6 L1591.9,424.5 L1591.5,424.3 L1591.2,424.1 L1591.1,424.0 L1591.0,423.9 L1586.1,420.3 L1585.9,420.2 L1578.6,415.3 L1578.4,415.2 L1578.3,415.1 L1578.1,414.9 L1577.8,414.7 L1577.6,414.4 L1577.4,414.1 L1577.3,413.8 L1577.1,413.5 L1577.0,413.2 L1577.0,413.1 L1576.9,412.9 L1575.9,408.9 L1575.8,408.6 L1575.7,408.4 L1575.6,408.1 L1573.2,404.1 L1573.0,403.9 L1572.9,403.7 L1572.7,403.5 L1572.6,403.4 L1572.4,403.3 L1572.1,403.1 L1566.2,400.2 L1566.1,400.1 L1565.9,400.0 L1565.6,399.8 L1565.3,399.6 L1565.1,399.3 L1564.8,399.0 L1564.6,398.7 L1564.4,398.4 L1564.3,398.1 L1564.2,397.7 L1564.1,397.5 L1564.1,397.4 L1562.7,389.9 L1562.6,389.6 L1562.6,389.4 L1562.5,389.2 L1562.3,389.0 L1562.2,388.8 L1562.0,388.6 L1561.8,388.4 L1561.6,388.3 L1560.3,387.4 L1560.0,387.3 L1559.8,387.2 L1559.6,387.1 L1559.3,387.1 L1559.1,387.0 L1558.9,387.0 L1558.7,387.0 L1558.4,387.1 L1558.2,387.1 L1558.0,387.2 L1557.8,387.3 L1557.5,387.5 L1554.7,389.5 L1554.5,389.6 L1548.9,394.1 L1548.6,394.3 L1548.4,394.6 L1545.1,398.7 L1544.9,398.9 L1544.8,399.1 L1544.7,399.3 L1544.6,399.6 L1544.6,399.8 L1544.5,400.0 L1544.5,400.3 L1544.5,404.3 L1544.5,404.5Z" fill="#cccccc"/>
<circle cx="1546.4" cy="418.0" r="9.1" fill="#cccccc"/>
<circle cx="1555.0" cy="420.3" r="9.1" fill="#cccccc"/>
<circle cx="1558.7" cy="428.1" r="9.1" fill="#cccccc"/>
<circle cx="1565.4" cy="431.2" r="9.1" fill="#cccccc"/>
<circle cx="1574.3" cy="431.4" r="9.1" fill="#cccccc"/>
<circle cx="1583.3" cy="431.4" r="9.1" fill="#cccccc"/>
<circle cx="1592.3" cy="430.9" r="9.1" fill="#cccccc"/>
<circle cx="1591.2" cy="429.7" r="9.1" fill="#cccccc"/>
<circle cx="1583.7" cy="425.0" r="9.1" fill="#cccccc"/>
<circle cx="1576.2" cy="420.0" r="9.1" fill="#cccccc"/>
<circle cx="1571.5" cy="412.7" r="9.1" fill="#cccccc"/>
<circle cx="1566.3" cy="406.0" r="9.1" fill="#cccccc"/>
<circle cx="1559.6" cy="400.4" r="9.1" fill="#cccccc"/>
<circle cx="1556.7" cy="394.5" r="9.1" fill="#cccccc"/>
<circle cx="1550.2" cy="400.7" r="9.1" fill="#cccccc"/>
<circle cx="1548.6" cy="409.3" r="9.1" fill="#cccccc"/>
<circle cx="1623.2" cy="416.1" r="9.1" fill="#cccccc"/>
<circle cx="1629.6" cy="416.1" r="9.1" fill="#cccccc"/>
<circle cx="1629.2" cy="413.9" r="9.1" fill="#cccccc"/>
<path d="M1595.3,421.4 L1595.0,421.5 L1594.8,421.6 L1594.7,421.7 L1594.5,421.9 L1594.3,422.0 L1594.2,422.2 L1594.0,422.4 L1593.9,422.6 L1593.8,422.8 L1593.7,423.0 L1593.7,423.2 L1593.7,423.4 L1593.6,423.8 L1593.6,431.1 L1593.7,431.5 L1593.7,431.7 L1593.7,431.9 L1593.8,432.1 L1593.9,432.3 L1594.0,432.5 L1594.2,432.7 L1594.3,432.9 L1594.5,433.0 L1594.7,433.2 L1594.9,433.3 L1595.1,433.4 L1595.3,433.5 L1595.6,433.5 L1595.8,433.6 L1596.0,433.6 L1596.3,433.6 L1596.5,433.5 L1596.7,433.5 L1596.9,433.4 L1597.1,433.3 L1597.3,433.2 L1597.5,433.0 L1597.7,432.9 L1597.9,432.6 L1598.9,431.4 L1599.0,431.2 L1599.1,431.1 L1599.4,430.8 L1599.5,430.7 L1599.7,430.6 L1605.4,426.1 L1605.5,426.0 L1605.6,425.9 L1605.9,425.7 L1606.2,425.5 L1606.6,425.4 L1606.9,425.3 L1607.1,425.2 L1607.2,425.2 L1620.0,422.9 L1620.1,422.9 L1620.4,422.8 L1620.6,422.8 L1631.3,421.8 L1631.6,421.8 L1631.9,421.7 L1632.1,421.7 L1632.3,421.6 L1632.5,421.5 L1632.6,421.4 L1632.9,421.2 L1634.6,419.6 L1634.8,419.3 L1635.0,419.2 L1635.1,419.0 L1635.2,418.8 L1635.3,418.6 L1635.4,418.4 L1635.4,418.2 L1635.5,417.9 L1635.5,417.7 L1635.4,417.5 L1635.4,417.3 L1635.4,417.1 L1635.2,416.8 L1635.1,416.4 L1635.0,416.1 L1634.8,415.9 L1634.7,415.7 L1634.5,415.5 L1634.4,415.4 L1634.2,415.3 L1634.0,415.1 L1633.8,415.0 L1633.4,414.9 L1628.5,413.5 L1628.3,413.5 L1628.0,413.4 L1620.5,412.5 L1620.1,412.5 L1619.9,412.5 L1619.6,412.5 L1619.3,412.6 L1609.3,415.6 L1608.8,415.8 L1598.7,420.3 L1598.5,420.3 L1598.3,420.4 L1598.1,420.5Z" fill="#cccccc"/>
<path d="M307.3,814.1 L307.3,814.4 L307.3,814.6 L307.4,814.8 L307.5,815.1 L307.6,815.3 L307.7,815.5 L307.8,815.7 L308.0,815.8 L308.2,816.1 L311.1,818.3 L311.3,818.5 L311.5,818.6 L311.7,818.7 L312.0,818.8 L312.3,818.9 L317.0,819.8 L317.2,819.9 L317.3,819.9 L317.7,820.0 L318.0,820.2 L318.3,820.3 L318.6,820.6 L318.9,820.8 L319.2,821.1 L319.4,821.4 L319.6,821.7 L319.8,822.0 L319.9,822.4 L319.9,822.5 L320.0,822.7 L321.2,827.5 L321.2,827.7 L321.3,827.8 L321.3,828.2 L321.3,828.6 L321.3,828.9 L321.2,829.3 L321.1,829.6 L321.0,830.0 L321.0,830.1 L320.9,830.3 L318.8,834.4 L318.7,834.7 L318.6,834.9 L318.6,835.2 L317.5,841.3 L317.5,841.6 L317.5,841.9 L317.5,851.4 L317.5,851.6 L317.5,851.7 L317.4,852.1 L317.4,852.4 L317.3,852.8 L317.1,853.1 L316.9,853.5 L316.7,853.8 L316.5,854.1 L316.2,854.3 L316.1,854.4 L315.9,854.5 L312.1,857.4 L311.9,857.6 L311.7,857.7 L311.6,857.9 L311.5,858.1 L311.3,858.3 L309.1,862.7 L309.0,863.0 L308.9,863.2 L308.9,863.4 L308.9,863.7 L308.8,863.9 L308.9,864.1 L308.9,864.4 L309.8,868.6 L309.8,868.7 L309.8,868.8 L309.8,868.8 L311.0,876.3 L311.1,876.5 L311.1,876.6 L311.1,877.0 L311.1,877.4 L311.0,877.7 L311.0,878.1 L310.8,878.4 L310.7,878.8 L310.6,878.9 L310.5,879.1 L307.7,883.8 L307.5,884.1 L307.4,884.3 L307.4,884.5 L307.3,884.7 L307.3,884.9 L307.3,885.2 L307.3,888.5 L307.3,888.9 L307.3,889.1 L307.4,889.3 L307.5,889.5 L307.6,889.7 L307.7,889.9 L307.8,890.1 L308.0,890.4 L309.9,892.2 L310.1,892.4 L310.3,892.6 L310.6,892.7 L310.8,892.8 L311.0,892.9 L311.3,893.0 L316.9,893.9 L317.0,893.9 L317.2,893.9 L317.5,894.0 L317.8,894.2 L318.2,894.3 L318.5,894.5 L318.7,894.7 L319.0,895.0 L319.2,895.2 L319.4,895.5 L319.6,895.8 L319.8,896.1 L319.9,896.5 L319.9,896.6 L320.0,896.8 L320.7,899.7 L320.8,900.0 L320.9,900.2 L321.0,900.4 L321.1,900.5 L321.2,900.7 L321.4,900.9 L321.6,901.1 L324.6,903.5 L324.9,903.7 L325.1,903.8 L325.3,903.9 L325.5,904.0 L325.7,904.0 L326.0,904.1 L326.3,904.1 L339.3,904.1 L339.4,904.1 L339.7,904.1 L339.9,904.1 L351.8,905.3 L352.1,905.3 L352.5,905.3 L360.6,904.3 L360.9,904.2 L361.2,904.1 L361.4,904.1 L361.7,903.9 L365.5,901.6 L365.8,901.4 L366.0,901.3 L366.1,901.1 L366.3,900.9 L366.5,900.6 L369.4,895.7 L369.5,895.6 L369.6,895.5 L369.8,895.2 L370.0,894.9 L370.3,894.7 L370.6,894.5 L370.9,894.3 L371.2,894.2 L371.3,894.1 L371.5,894.0 L379.3,891.1 L379.5,891.0 L379.7,890.9 L379.9,890.8 L380.1,890.6 L380.2,890.5 L380.4,890.3 L380.5,890.1 L380.7,889.9 L382.1,887.1 L382.1,886.9 L382.2,886.8 L382.4,886.5 L382.6,886.2 L382.8,886.0 L383.1,885.8 L383.3,885.6 L383.6,885.4 L383.7,885.3 L383.9,885.2 L388.7,882.8 L388.9,882.7 L389.0,882.7 L389.4,882.5 L389.7,882.5 L389.9,882.4 L390.0,882.4 L393.9,881.7 L394.2,881.7 L394.4,881.6 L394.6,881.5 L394.8,881.4 L395.0,881.3 L395.2,881.1 L395.4,880.9 L395.5,880.8 L395.6,880.6 L395.7,880.4 L395.9,880.1 L397.2,876.1 L397.2,875.9 L399.7,867.3 L399.8,867.1 L399.9,866.8 L399.9,866.6 L402.3,860.8 L402.4,860.4 L404.0,854.9 L404.1,854.6 L404.1,854.3 L404.1,854.1 L404.1,853.9 L404.1,853.7 L404.0,853.4 L403.9,853.2 L403.8,853.0 L403.7,852.8 L403.5,852.6 L401.9,850.6 L401.7,850.3 L401.5,850.1 L401.3,850.0 L401.1,849.9 L400.9,849.8 L400.6,849.7 L400.3,849.6 L395.1,848.7 L395.0,848.7 L394.8,848.7 L394.5,848.6 L394.1,848.4 L393.8,848.3 L393.5,848.1 L393.2,847.8 L392.9,847.6 L392.7,847.3 L392.6,847.2 L392.5,847.0 L390.1,843.4 L390.0,843.3 L389.9,843.2 L389.8,842.9 L389.6,842.6 L389.5,842.2 L389.5,841.9 L389.4,841.6 L389.4,841.2 L389.4,840.9 L389.4,840.7 L389.5,840.6 L390.7,833.2 L390.7,833.0 L390.8,832.9 L390.9,832.5 L391.0,832.1 L391.2,831.8 L391.4,831.5 L391.6,831.2 L391.7,831.1 L391.9,831.0 L400.4,822.5 L400.7,822.1 L405.5,815.9 L405.7,815.6 L405.9,815.4 L405.9,815.2 L406.0,815.0 L406.1,814.7 L406.1,814.5 L406.1,814.3 L406.1,814.0 L406.0,813.7 L405.6,812.0 L405.5,811.7 L405.4,811.4 L405.3,811.2 L405.1,811.0 L405.0,810.9 L404.8,810.7 L404.6,810.5 L404.4,810.4 L404.1,810.3 L402.8,809.7 L402.5,809.6 L402.3,809.6 L402.1,809.5 L401.8,809.5 L401.6,809.5 L401.3,809.6 L401.1,809.6 L400.9,809.7 L400.7,809.8 L400.5,810.0 L400.2,810.2 L398.1,812.0 L398.0,812.1 L397.9,812.2 L397.6,812.4 L397.3,812.6 L397.0,812.7 L396.6,812.9 L396.5,812.9 L396.3,812.9 L386.8,815.3 L386.5,815.4 L386.3,815.5 L380.8,817.8 L380.5,818.0 L380.3,818.1 L380.2,818.2 L380.0,818.4 L379.8,818.6 L379.7,818.7 L379.6,818.9 L379.5,819.1 L379.4,819.3 L379.3,819.6 L378.3,824.3 L378.3,824.6 L378.3,824.8 L378.3,825.0 L378.3,825.3 L379.4,833.0 L379.4,833.2 L379.4,833.3 L379.4,833.7 L379.4,834.1 L379.4,834.2 L379.4,834.4 L378.1,841.9 L378.1,841.9 L378.1,842.0 L378.1,842.0 L376.2,852.1 L376.2,852.2 L376.1,852.3 L376.1,852.6 L376.0,852.8 L376.0,852.9 L372.4,862.4 L372.3,862.7 L372.3,863.0 L371.1,869.8 L371.1,870.0 L371.0,870.2 L371.0,870.5 L370.8,870.9 L370.7,871.2 L370.5,871.5 L370.2,871.8 L370.0,872.0 L369.7,872.3 L369.4,872.5 L369.1,872.7 L368.7,872.8 L368.4,872.9 L368.0,873.0 L367.7,873.0 L367.5,873.0 L367.3,873.0 L360.0,873.0 L359.8,873.0 L359.7,873.0 L359.3,873.0 L359.0,872.9 L358.6,872.8 L358.3,872.7 L358.0,872.5 L357.8,872.4 L357.7,872.3 L354.1,870.0 L354.0,869.9 L353.8,869.8 L353.6,869.5 L353.3,869.3 L353.1,869.0 L352.9,868.7 L352.7,868.4 L352.6,868.0 L352.5,867.7 L352.4,867.3 L352.4,866.9 L352.4,866.6 L352.4,866.2 L352.5,865.9 L352.5,865.7 L352.6,865.6 L354.9,858.5 L355.0,858.3 L355.1,858.0 L355.7,854.1 L355.8,853.7 L355.8,853.5 L355.7,853.3 L355.7,853.1 L355.7,852.9 L355.6,852.7 L355.5,852.4 L355.4,852.3 L355.2,852.1 L355.0,851.8 L352.3,849.1 L352.1,849.0 L352.0,848.8 L351.8,848.6 L351.6,848.2 L351.4,847.9 L351.3,847.6 L351.2,847.2 L351.1,847.0 L351.1,846.9 L349.9,839.5 L349.9,839.3 L349.8,839.2 L349.8,838.9 L349.8,838.6 L349.8,838.5 L349.8,838.3 L350.4,830.9 L350.5,830.8 L350.5,830.6 L350.6,830.2 L350.7,829.9 L350.7,829.7 L350.8,829.5 L352.9,824.4 L353.1,824.1 L353.1,823.8 L353.1,823.6 L353.2,823.4 L353.1,823.2 L353.1,822.9 L353.1,822.7 L353.0,822.4 L352.2,820.6 L352.1,820.3 L352.0,820.1 L351.8,819.9 L351.6,819.7 L351.5,819.5 L351.3,819.4 L351.0,819.2 L345.6,816.5 L345.4,816.4 L345.3,816.4 L345.0,816.2 L344.7,816.0 L344.5,815.7 L344.2,815.5 L344.0,815.2 L343.8,814.9 L343.7,814.6 L343.6,814.3 L343.5,814.1 L343.5,813.9 L341.6,806.6 L341.6,806.4 L341.6,806.3 L341.5,805.9 L341.5,805.8 L341.5,805.6 L341.0,797.3 L340.9,796.9 L340.9,796.7 L340.8,796.4 L340.7,796.2 L340.5,795.9 L338.6,793.0 L338.4,792.7 L338.2,792.6 L338.1,792.4 L337.9,792.3 L337.7,792.2 L337.5,792.1 L337.3,792.0 L337.1,791.9 L336.8,791.9 L336.6,791.9 L336.4,791.9 L336.1,791.9 L334.7,792.1 L334.4,792.2 L334.1,792.3 L333.9,792.4 L333.7,792.5 L333.5,792.7 L333.3,792.8 L333.1,793.1 L329.5,797.6 L324.6,803.7 L324.4,804.0 L320.8,809.4 L320.7,809.5 L320.6,809.6 L320.4,809.9 L320.1,810.1 L319.9,810.4 L319.6,810.6 L319.3,810.7 L318.9,810.9 L318.6,811.0 L318.3,811.0 L317.9,811.1 L317.6,811.1 L317.4,811.1 L317.2,811.1 L311.7,810.6 L311.4,810.6 L311.2,810.6 L310.9,810.7 L310.7,810.7 L310.5,810.8 L310.2,811.0 L308.5,812.0 L308.2,812.2 L308.0,812.3 L307.9,812.5 L307.7,812.7 L307.6,812.9 L307.5,813.1 L307.4,813.3 L307.3,813.6 L307.3,813.8Z" fill="#cccccc"/>
<circle cx="320.7" cy="815.7" r="9.1" fill="#cccccc"/>
<circle cx="325.5" cy="823.5" r="9.1" fill="#cccccc"/>
<circle cx="325.4" cy="832.8" r="9.1" fill="#cccccc"/>
<circle cx="322.7" cy="841.8" r="9.1" fill="#cccccc"/>
<circle cx="322.7" cy="851.3" r="9.1" fill="#cccccc"/>
<circle cx="318.3" cy="859.2" r="9.1" fill="#cccccc"/>
<circle cx="314.7" cy="867.0" r="9.1" fill="#cccccc"/>
<circle cx="316.3" cy="876.4" r="9.1" fill="#cccccc"/>
<circle cx="313.0" cy="885.1" r="9.1" fill="#cccccc"/>
<circle cx="319.1" cy="889.1" r="9.1" fill="#cccccc"/>
<circle cx="325.1" cy="895.9" r="9.1" fill="#cccccc"/>
<circle cx="332.9" cy="898.9" r="9.1" fill="#cccccc"/>
<circle cx="342.4" cy="899.1" r="9.1" fill="#cccccc"/>
<circle cx="351.8" cy="900.1" r="9.1" fill="#cccccc"/>
<circle cx="361.0" cy="898.3" r="9.1" fill="#cccccc"/>
<circle cx="366.8" cy="890.9" r="9.1" fill="#cccccc"/>
<circle cx="375.4" cy="887.0" r="9.1" fill="#cccccc"/>
<circle cx="381.8" cy="880.5" r="9.1" fill="#cccccc"/>
<circle cx="390.6" cy="877.0" r="9.1" fill="#cccccc"/>
<circle cx="393.9" cy="868.6" r="9.1" fill="#cccccc"/>
<circle cx="397.1" cy="859.7" r="9.1" fill="#cccccc"/>
<circle cx="394.4" cy="853.9" r="9.1" fill="#cccccc"/>
<circle cx="387.1" cy="848.4" r="9.1" fill="#cccccc"/>
<circle cx="384.4" cy="839.6" r="9.1" fill="#cccccc"/>
<circle cx="386.2" cy="830.3" r="9.1" fill="#cccccc"/>
<circle cx="392.3" cy="823.1" r="9.1" fill="#cccccc"/>
<circle cx="394.9" cy="818.6" r="9.1" fill="#cccccc"/>
<circle cx="385.8" cy="821.3" r="9.1" fill="#cccccc"/>
<circle cx="384.1" cy="829.6" r="9.1" fill="#cccccc"/>
<circle cx="383.8" cy="839.0" r="9.1" fill="#cccccc"/>
<circle cx="382.2" cy="848.4" r="9.1" fill="#cccccc"/>
<circle cx="379.8" cy="857.6" r="9.1" fill="#cccccc"/>
<circle cx="376.9" cy="866.6" r="9.1" fill="#cccccc"/>
<circle cx="373.9" cy="875.4" r="9.1" fill="#cccccc"/>
<circle cx="365.2" cy="878.2" r="9.1" fill="#cccccc"/>
<circle cx="355.9" cy="877.3" r="9.1" fill="#cccccc"/>
<circle cx="348.5" cy="871.4" r="9.1" fill="#cccccc"/>
<circle cx="348.2" cy="862.3" r="9.1" fill="#cccccc"/>
<circle cx="349.4" cy="853.5" r="9.1" fill="#cccccc"/>
<circle cx="345.6" cy="845.1" r="9.1" fill="#cccccc"/>
<circle cx="344.8" cy="835.7" r="9.1" fill="#cccccc"/>
<circle cx="346.5" cy="826.4" r="9.1" fill="#cccccc"/>
<circle cx="342.2" cy="820.5" r="9.1" fill="#cccccc"/>
<circle cx="337.8" cy="812.4" r="9.1" fill="#cccccc"/>
<circle cx="336.2" cy="803.1" r="9.1" fill="#cccccc"/>
<circle cx="333.0" cy="801.5" r="9.1" fill="#cccccc"/>
<circle cx="327.2" cy="809.1" r="9.1" fill="#cccccc"/>
<path d="M733.7,899.5 L733.5,899.8 L733.4,900.0 L733.3,900.2 L733.2,900.4 L733.1,900.6 L733.1,900.9 L733.1,901.1 L733.1,901.3 L733.2,901.6 L733.2,901.8 L733.3,902.0 L733.4,902.2 L733.6,902.4 L733.7,902.6 L733.9,902.8 L734.1,902.9 L734.3,903.1 L734.5,903.2 L734.7,903.3 L734.9,903.3 L735.2,903.4 L740.4,904.1 L740.6,904.1 L751.5,905.4 L752.0,905.4 L761.3,905.4 L761.8,905.4 L771.0,904.2 L771.2,904.2 L771.5,904.1 L778.8,902.0 L779.2,901.9 L779.4,901.8 L779.7,901.6 L787.6,895.9 L787.8,895.8 L787.9,895.8 L788.2,895.6 L788.5,895.4 L788.7,895.4 L788.9,895.3 L795.9,893.0 L796.4,892.7 L801.7,890.1 L802.0,889.9 L802.1,889.8 L802.3,889.7 L802.5,889.5 L802.6,889.4 L802.7,889.2 L802.9,888.9 L804.4,885.8 L804.5,885.7 L804.6,885.5 L804.8,885.2 L805.0,884.9 L805.3,884.6 L805.6,884.4 L805.7,884.3 L805.9,884.2 L813.2,879.3 L813.4,879.2 L813.8,879.0 L814.0,878.9 L818.8,876.5 L818.9,876.4 L819.1,876.3 L819.5,876.2 L819.6,876.1 L819.8,876.1 L824.6,874.9 L824.8,874.8 L824.9,874.8 L825.3,874.8 L825.6,874.7 L826.0,874.8 L826.3,874.8 L826.6,874.9 L827.0,875.0 L827.3,875.1 L827.6,875.3 L827.9,875.5 L828.1,875.7 L828.4,876.0 L828.6,876.3 L828.8,876.6 L829.0,876.9 L829.1,877.2 L829.1,877.3 L829.2,877.5 L830.8,883.2 L830.9,883.5 L831.0,883.7 L831.1,883.9 L831.2,884.1 L831.4,884.2 L831.6,884.4 L831.7,884.5 L831.9,884.7 L832.1,884.8 L832.4,884.9 L833.0,885.1 L833.3,885.2 L833.6,885.2 L833.8,885.2 L834.0,885.2 L834.3,885.2 L834.5,885.1 L834.7,885.1 L834.9,885.0 L835.2,884.9 L835.3,884.7 L835.5,884.6 L835.7,884.3 L838.2,881.4 L838.4,881.1 L838.5,880.9 L838.6,880.7 L838.7,880.5 L838.8,880.2 L838.8,879.9 L839.8,869.8 L839.8,869.5 L839.8,869.1 L838.6,859.8 L838.6,859.6 L838.6,859.5 L838.6,859.2 L838.6,858.9 L838.6,858.8 L838.6,858.6 L839.8,849.3 L839.8,849.0 L839.8,848.6 L838.8,839.2 L838.7,838.9 L838.7,838.7 L838.6,838.4 L838.4,838.1 L834.2,830.8 L834.1,830.6 L834.0,830.4 L830.6,826.2 L830.3,825.9 L830.2,825.8 L830.0,825.6 L829.8,825.5 L829.6,825.4 L829.4,825.3 L829.1,825.2 L823.0,823.9 L822.7,823.8 L822.5,823.8 L822.2,823.8 L822.0,823.9 L821.8,823.9 L821.6,824.0 L821.3,824.1 L821.1,824.2 L820.9,824.4 L820.7,824.6 L814.9,830.4 L814.7,830.6 L814.5,830.8 L814.4,831.1 L809.3,841.2 L809.1,841.7 L807.0,848.1 L806.9,848.3 L806.9,848.5 L806.9,848.8 L806.3,856.8 L806.3,856.9 L806.2,857.1 L806.2,857.4 L806.1,857.7 L806.0,858.1 L805.8,858.4 L805.7,858.6 L805.6,858.8 L805.5,858.9 L800.6,865.7 L800.5,865.8 L800.4,866.0 L800.1,866.2 L799.8,866.5 L799.5,866.7 L799.2,866.9 L798.9,867.1 L798.5,867.2 L798.2,867.3 L797.8,867.3 L797.4,867.3 L797.3,867.3 L797.1,867.3 L789.7,866.7 L789.5,866.7 L789.4,866.6 L789.3,866.6 L783.9,865.9 L783.6,865.8 L783.4,865.8 L783.1,865.9 L782.9,865.9 L782.7,866.0 L782.5,866.0 L782.3,866.1 L782.1,866.3 L781.9,866.4 L781.8,866.5 L781.6,866.8 L779.5,869.4 L779.3,869.7 L779.2,869.9 L779.1,870.1 L779.0,870.4 L776.8,877.9 L776.7,878.1 L776.6,878.5 L776.5,878.7 L772.8,887.3 L772.8,887.5 L772.7,887.6 L772.5,887.9 L772.3,888.2 L772.1,888.5 L771.8,888.8 L771.7,888.9 L771.6,889.0 L765.4,893.9 L765.3,894.0 L765.2,894.1 L764.9,894.3 L764.6,894.4 L764.3,894.6 L763.9,894.7 L763.6,894.7 L763.5,894.8 L763.3,894.8 L752.1,896.0 L751.9,896.0 L751.6,896.1 L751.4,896.1 L744.4,896.1 L743.8,896.1 L736.6,897.0 L736.3,897.1 L736.1,897.1 L735.9,897.2 L735.7,897.3 L735.5,897.4 L735.3,897.6 L735.1,897.7 L734.9,897.9Z" fill="#cccccc"/>
<circle cx="765.1" cy="899.7" r="9.1" fill="#cccccc"/>
<circle cx="774.3" cy="897.9" r="9.1" fill="#cccccc"/>
<circle cx="782.3" cy="893.3" r="9.1" fill="#cccccc"/>
<circle cx="790.7" cy="889.2" r="9.1" fill="#cccccc"/>
<circle cx="798.9" cy="885.2" r="9.1" fill="#cccccc"/>
<circle cx="805.1" cy="878.4" r="9.1" fill="#cccccc"/>
<circle cx="813.1" cy="873.5" r="9.1" fill="#cccccc"/>
<circle cx="821.8" cy="870.2" r="9.1" fill="#cccccc"/>
<circle cx="830.8" cy="871.2" r="9.1" fill="#cccccc"/>
<circle cx="834.4" cy="871.9" r="9.1" fill="#cccccc"/>
<circle cx="833.8" cy="862.5" r="9.1" fill="#cccccc"/>
<circle cx="834.1" cy="853.2" r="9.1" fill="#cccccc"/>
<circle cx="834.1" cy="843.9" r="9.1" fill="#cccccc"/>
<circle cx="830.8" cy="835.3" r="9.1" fill="#cccccc"/>
<circle cx="824.2" cy="829.5" r="9.1" fill="#cccccc"/>
<circle cx="817.9" cy="835.7" r="9.1" fill="#cccccc"/>
<circle cx="813.8" cy="844.1" r="9.1" fill="#cccccc"/>
<circle cx="811.7" cy="853.2" r="9.1" fill="#cccccc"/>
<circle cx="809.6" cy="862.2" r="9.1" fill="#cccccc"/>
<circle cx="804.0" cy="869.7" r="9.1" fill="#cccccc"/>
<circle cx="795.4" cy="872.4" r="9.1" fill="#cccccc"/>
<circle cx="786.0" cy="871.4" r="9.1" fill="#cccccc"/>
<circle cx="782.0" cy="878.6" r="9.1" fill="#cccccc"/>
<circle cx="778.5" cy="887.3" r="9.1" fill="#cccccc"/>
<circle cx="772.8" cy="894.6" r="9.1" fill="#cccccc"/>
<circle cx="262.7" cy="400.9" r="9.1" fill="#cccccc"/>
<circle cx="279.2" cy="416.4" r="9.1" fill="#cccccc"/>
<circle cx="299.0" cy="431.3" r="9.1" fill="#cccccc"/>
<circle cx="328.5" cy="339.4" r="9.1" fill="#cccccc"/>
<circle cx="354.6" cy="342.6" r="9.1" fill="#cccccc"/>
<circle cx="408.6" cy="361.7" r="9.1" fill="#cccccc"/>
<circle cx="423.9" cy="409.0" r="9.1" fill="#cccccc"/>
<circle cx="611.6" cy="336.2" r="9.1" fill="#cccccc"/>
<circle cx="628.0" cy="352.4" r="9.1" fill="#cccccc"/>
<circle cx="637.5" cy="368.7" r="9.1" fill="#cccccc"/>
<circle cx="648.6" cy="386.0" r="9.1" fill="#cccccc"/>
<circle cx="660.1" cy="385.4" r="9.1" fill="#cccccc"/>
<circle cx="673.5" cy="400.9" r="9.1" fill="#cccccc"/>
<circle cx="742.1" cy="366.2" r="9.1" fill="#cccccc"/>
<circle cx="666.5" cy="365.9" r="9.1" fill="#cccccc"/>
<circle cx="674.4" cy="366.2" r="9.1" fill="#cccccc"/>
<circle cx="678.7" cy="347.0" r="9.1" fill="#cccccc"/>
<circle cx="690.1" cy="338.1" r="9.1" fill="#cccccc"/>
<circle cx="704.8" cy="333.6" r="9.1" fill="#cccccc"/>
<circle cx="737.0" cy="337.5" r="9.1" fill="#cccccc"/>
<circle cx="731.9" cy="343.8" r="9.1" fill="#cccccc"/>
<circle cx="861.0" cy="377.3" r="9.1" fill="#cccccc"/>
<circle cx="871.7" cy="392.0" r="9.1" fill="#cccccc"/>
<circle cx="897.5" cy="381.7" r="9.1" fill="#cccccc"/>
<circle cx="835.0" cy="389.1" r="9.1" fill="#cccccc"/>
<circle cx="835.0" cy="409.2" r="9.1" fill="#cccccc"/>
<circle cx="815.1" cy="405.1" r="9.1" fill="#cccccc"/>
<circle cx="799.3" cy="418.1" r="9.1" fill="#cccccc"/>
<circle cx="785.7" cy="420.9" r="9.1" fill="#cccccc"/>
<circle cx="1022.9" cy="335.9" r="9.1" fill="#cccccc"/>
<circle cx="1030.4" cy="354.1" r="9.1" fill="#cccccc"/>
<circle cx="1059.3" cy="386.0" r="9.1" fill="#cccccc"/>
<circle cx="1071.7" cy="385.3" r="9.1" fill="#cccccc"/>
<circle cx="1084.9" cy="401.0" r="9.1" fill="#cccccc"/>
<circle cx="1101.3" cy="416.4" r="9.1" fill="#cccccc"/>
<circle cx="1121.6" cy="398.5" r="9.1" fill="#cccccc"/>
<circle cx="1121.6" cy="407.3" r="9.1" fill="#cccccc"/>
<circle cx="1121.6" cy="431.5" r="9.1" fill="#cccccc"/>
<circle cx="1137.7" cy="408.8" r="9.1" fill="#cccccc"/>
<circle cx="1345.2" cy="350.3" r="9.1" fill="#cccccc"/>
<circle cx="1292.1" cy="356.0" r="9.1" fill="#cccccc"/>
<circle cx="1308.8" cy="350.3" r="9.1" fill="#cccccc"/>
<circle cx="1308.8" cy="381.5" r="9.1" fill="#cccccc"/>
<circle cx="1282.7" cy="392.0" r="9.1" fill="#cccccc"/>
<circle cx="1246.0" cy="398.7" r="9.1" fill="#cccccc"/>
<circle cx="1246.0" cy="412.7" r="9.1" fill="#cccccc"/>
<circle cx="1518.8" cy="333.4" r="9.1" fill="#cccccc"/>
<circle cx="1546.3" cy="368.7" r="9.1" fill="#cccccc"/>
<circle cx="1470.7" cy="385.7" r="9.1" fill="#cccccc"/>
<circle cx="1496.2" cy="401.1" r="9.1" fill="#cccccc"/>
<circle cx="1512.8" cy="416.6" r="9.1" fill="#cccccc"/>
<circle cx="1532.6" cy="431.3" r="9.1" fill="#cccccc"/>
<circle cx="1720.1" cy="345.4" r="9.1" fill="#cccccc"/>
<circle cx="1720.1" cy="351.3" r="9.1" fill="#cccccc"/>
<circle cx="1703.3" cy="355.5" r="9.1" fill="#cccccc"/>
<circle cx="1683.4" cy="377.4" r="9.1" fill="#cccccc"/>
<circle cx="1693.7" cy="391.8" r="9.1" fill="#cccccc"/>
<circle cx="1720.1" cy="381.5" r="9.1" fill="#cccccc"/>
<circle cx="1657.7" cy="398.1" r="9.1" fill="#cccccc"/>
<circle cx="1657.7" cy="412.8" r="9.1" fill="#cccccc"/>
<circle cx="1637.3" cy="404.6" r="9.1" fill="#cccccc"/>
<circle cx="200.1" cy="804.7" r="9.1" fill="#cccccc"/>
<circle cx="293.4" cy="802.7" r="9.1" fill="#cccccc"/>
<circle cx="302.6" cy="847.0" r="9.1" fill="#cccccc"/>
<circle cx="279.1" cy="885.0" r="9.1" fill="#cccccc"/>
<circle cx="418.6" cy="800.4" r="9.1" fill="#cccccc"/>
<circle cx="423.7" cy="820.0" r="9.1" fill="#cccccc"/>
<circle cx="423.7" cy="877.1" r="9.1" fill="#cccccc"/>
<circle cx="423.7" cy="882.2" r="9.1" fill="#cccccc"/>
<circle cx="385.4" cy="792.8" r="9.1" fill="#cccccc"/>
<circle cx="386.0" cy="800.4" r="9.1" fill="#cccccc"/>
<circle cx="628.0" cy="821.5" r="9.1" fill="#cccccc"/>
<circle cx="637.1" cy="837.9" r="9.1" fill="#cccccc"/>
<circle cx="673.3" cy="869.5" r="9.1" fill="#cccccc"/>
<circle cx="689.6" cy="885.1" r="9.1" fill="#cccccc"/>
<circle cx="716.1" cy="859.7" r="9.1" fill="#cccccc"/>
<circle cx="710.0" cy="875.4" r="9.1" fill="#cccccc"/>
<circle cx="730.3" cy="873.3" r="9.1" fill="#cccccc"/>
<circle cx="722.2" cy="888.2" r="9.1" fill="#cccccc"/>
<circle cx="741.5" cy="884.1" r="9.1" fill="#cccccc"/>
<circle cx="710.0" cy="900.4" r="9.1" fill="#cccccc"/>
<circle cx="897.7" cy="818.9" r="9.1" fill="#cccccc"/>
<circle cx="897.7" cy="850.5" r="9.1" fill="#cccccc"/>
<circle cx="859.6" cy="799.6" r="9.1" fill="#cccccc"/>
<circle cx="859.6" cy="809.8" r="9.1" fill="#cccccc"/>
<circle cx="854.5" cy="835.2" r="9.1" fill="#cccccc"/>
<circle cx="849.5" cy="828.1" r="9.1" fill="#cccccc"/>
<circle cx="821.0" cy="810.8" r="9.1" fill="#cccccc"/>
<circle cx="794.6" cy="823.0" r="9.1" fill="#cccccc"/>
<circle cx="1345.2" cy="819.2" r="9.1" fill="#cccccc"/>
<circle cx="1308.8" cy="819.2" r="9.1" fill="#cccccc"/>
<circle cx="1258.2" cy="817.6" r="9.1" fill="#cccccc"/>
<circle cx="1246.3" cy="845.7" r="9.1" fill="#cccccc"/>
<circle cx="1272.1" cy="845.6" r="9.1" fill="#cccccc"/>
<circle cx="1282.7" cy="860.9" r="9.1" fill="#cccccc"/>
<circle cx="1308.8" cy="849.9" r="9.1" fill="#cccccc"/>
<circle cx="1232.8" cy="864.5" r="9.1" fill="#cccccc"/>
<circle cx="1246.8" cy="866.3" r="9.1" fill="#cccccc"/>
<circle cx="1246.8" cy="881.2" r="9.1" fill="#cccccc"/>
<circle cx="1215.6" cy="877.3" r="9.1" fill="#cccccc"/>
<circle cx="1220.3" cy="886.6" r="9.1" fill="#cccccc"/>
<circle cx="1196.8" cy="887.4" r="9.1" fill="#cccccc"/>
<circle cx="1200.0" cy="892.1" r="9.1" fill="#cccccc"/>
<circle cx="1175.0" cy="899.9" r="9.1" fill="#cccccc"/>
<circle cx="1184.4" cy="901.5" r="9.1" fill="#cccccc"/>
<circle cx="738.6" cy="899.8" r="9.1" fill="#cccccc"/>
<circle cx="753.2" cy="900.8" r="9.1" fill="#cccccc"/>
<circle cx="767.7" cy="899.8" r="9.1" fill="#cccccc"/>
<circle cx="835.4" cy="877.9" r="9.1" fill="#cccccc"/>
<circle cx="794.4" cy="835.3" r="9.1" fill="#cccccc"/>
<circle cx="791.7" cy="847.8" r="9.1" fill="#cccccc"/>
<circle cx="834.3" cy="866.5" r="9.1" fill="#cccccc"/>
<circle cx="325.6" cy="431.3" r="9.1" fill="#cccccc"/>
<circle cx="335.1" cy="432.0" r="9.1" fill="#cccccc"/>
<circle cx="329.4" cy="387.9" r="9.1" fill="#cccccc"/>
<circle cx="690.2" cy="417.0" r="9.1" fill="#cccccc"/>
<circle cx="766.4" cy="431.4" r="9.1" fill="#cccccc"/>
<circle cx="774.1" cy="432.3" r="9.1" fill="#cccccc"/>
<circle cx="780.0" cy="428.2" r="9.1" fill="#cccccc"/>
<circle cx="312.1" cy="813.8" r="9.1" fill="#cccccc"/>
<circle cx="381.7" cy="822.1" r="9.1" fill="#cccccc"/>
<circle cx="391.9" cy="818.3" r="9.1" fill="#cccccc"/>
<circle cx="402.1" cy="811.9" r="9.1" fill="#cccccc"/>
<circle cx="793.7" cy="822.2" r="9.1" fill="#cccccc"/>
<circle cx="794.3" cy="833.7" r="9.1" fill="#cccccc"/>
<circle cx="792.4" cy="843.9" r="9.1" fill="#cccccc"/>
<circle cx="791.1" cy="852.8" r="9.1" fill="#cccccc"/>
<circle cx="821.2" cy="810.7" r="9.1" fill="#cccccc"/>
<circle cx="1559.1" cy="387.7" r="9.1" fill="#cccccc"/>
<circle cx="1604.6" cy="421.9" r="9.1" fill="#cccccc"/>
<circle cx="1612.6" cy="418.7" r="9.1" fill="#cccccc"/>
<circle cx="1596.5" cy="431.6" r="9.1" fill="#cccccc"/>
<circle cx="382.0" cy="205.3" r="9.1" fill="#000"/>
<circle cx="296.5" cy="261.7" r="9.1" fill="#000"/>
<circle cx="318.4" cy="284.9" r="9.1" fill="#000"/>
<circle cx="334.3" cy="322.3" r="9.1" fill="#000"/>
<circle cx="382.0" cy="279.9" r="9.1" fill="#000"/>
<circle cx="378.7" cy="295.8" r="9.1" fill="#000"/>
<circle cx="388.0" cy="306.4" r="9.1" fill="#000"/>
<circle cx="382.0" cy="313.2" r="9.1" fill="#000"/>
<circle cx="506.4" cy="317.0" r="9.1" fill="#000"/>
<circle cx="619.2" cy="257.1" r="9.1" fill="#000"/>
<circle cx="637.1" cy="304.9" r="9.1" fill="#000"/>
<circle cx="692.3" cy="271.6" r="9.1" fill="#000"/>
<circle cx="685.0" cy="279.9" r="9.1" fill="#000"/>
<circle cx="684.3" cy="296.6" r="9.1" fill="#000"/>
<circle cx="709.5" cy="251.6" r="9.1" fill="#000"/>
<circle cx="712.4" cy="251.3" r="9.1" fill="#000"/>
<circle cx="724.6" cy="294.0" r="9.1" fill="#000"/>
<circle cx="723.5" cy="315.8" r="9.1" fill="#000"/>
<circle cx="1345.2" cy="310.1" r="9.1" fill="#000"/>
<circle cx="405.9" cy="726.5" r="9.1" fill="#000"/>
<circle cx="326.8" cy="735.3" r="9.1" fill="#000"/>
<circle cx="311.2" cy="744.2" r="9.1" fill="#000"/>
<circle cx="244.3" cy="774.2" r="9.1" fill="#000"/>
<circle cx="342.7" cy="771.4" r="9.1" fill="#000"/>
<circle cx="338.9" cy="789.3" r="9.1" fill="#000"/>
<circle cx="392.6" cy="781.7" r="9.1" fill="#000"/>
<circle cx="395.6" cy="787.0" r="9.1" fill="#000"/>
<circle cx="871.4" cy="728.5" r="9.1" fill="#000"/>
<circle cx="865.1" cy="746.8" r="9.1" fill="#000"/>
<circle cx="881.4" cy="750.4" r="9.1" fill="#000"/>
<circle cx="876.9" cy="780.3" r="9.1" fill="#000"/>
<circle cx="886.1" cy="790.5" r="9.1" fill="#000"/>
<circle cx="850.1" cy="789.5" r="9.1" fill="#000"/>
<circle cx="960.3" cy="786.0" r="9.1" fill="#000"/>
<circle cx="1345.2" cy="779.2" r="9.1" fill="#000"/>
<circle cx="536.8" cy="723.3" r="9.1" fill="#000"/>
<circle cx="732.9" cy="326.0" r="9.1" fill="#cccccc"/>
<circle cx="336.8" cy="797.2" r="9.1" fill="#cccccc"/>
<rect x="185.5" y="9.2" width="377.5" height="84.3" fill="#fff" stroke="#000" stroke-width="5"/>
<text x="374.2" y="67.5" font-size="44.8" text-anchor="middle" fill="#111">all_dnvs</text>
<line x1="183.0" y1="96.5" x2="183.0" y2="447.1" stroke="#000" stroke-width="5"/>
<line x1="169.5" y1="431.3" x2="183.0" y2="431.3" stroke="#333" stroke-width="5"/>
<text transform="translate(157.3,448.3) scale(1,1.06)" font-size="44" text-anchor="end" fill="#4d4d4d">0</text>
<line x1="169.5" y1="347.7" x2="183.0" y2="347.7" stroke="#333" stroke-width="5"/>
<text transform="translate(157.3,364.7) scale(1,1.06)" font-size="44" text-anchor="end" fill="#4d4d4d">1</text>
<line x1="169.5" y1="264.1" x2="183.0" y2="264.1" stroke="#333" stroke-width="5"/>
<text transform="translate(157.3,281.1) scale(1,1.06)" font-size="44" text-anchor="end" fill="#4d4d4d">2</text>
<line x1="169.5" y1="180.5" x2="183.0" y2="180.5" stroke="#333" stroke-width="5"/>
<text transform="translate(157.3,197.5) scale(1,1.06)" font-size="44" text-anchor="end" fill="#4d4d4d">3</text>
<line x1="169.5" y1="96.9" x2="183.0" y2="96.9" stroke="#333" stroke-width="5"/>
<text transform="translate(157.3,113.9) scale(1,1.06)" font-size="44" text-anchor="end" fill="#4d4d4d">4</text>
<rect x="596.7" y="9.2" width="377.5" height="84.3" fill="#fff" stroke="#000" stroke-width="5"/>
<text x="785.5" y="67.5" font-size="44.8" text-anchor="middle" fill="#111">chromatin_620</text>
<rect x="1007.9" y="9.2" width="377.5" height="84.3" fill="#fff" stroke="#000" stroke-width="5"/>
<text x="1196.7" y="67.5" font-size="44.8" text-anchor="middle" fill="#111">cilia_365</text>
<rect x="1419.1" y="9.2" width="377.5" height="84.3" fill="#fff" stroke="#000" stroke-width="5"/>
<text x="1607.8" y="67.5" font-size="44.8" text-anchor="middle" fill="#111">hCHD_210</text>
<line x1="1416.1" y1="447.1" x2="1799.1" y2="447.1" stroke="#000" stroke-width="5"/>
<line x1="1526.3" y1="447.1" x2="1526.3" y2="460.6" stroke="#333" stroke-width="5"/>
<text transform="translate(1526.3,504.7) scale(1,1.06)" font-size="44" text-anchor="middle" fill="#4d4d4d">0.5</text>
<line x1="1651.1" y1="447.1" x2="1651.1" y2="460.6" stroke="#333" stroke-width="5"/>
<text transform="translate(1651.1,504.7) scale(1,1.06)" font-size="44" text-anchor="middle" fill="#4d4d4d">2.0</text>
<line x1="1775.9" y1="447.1" x2="1775.9" y2="460.6" stroke="#333" stroke-width="5"/>
<text transform="translate(1775.9,504.7) scale(1,1.06)" font-size="44" text-anchor="middle" fill="#4d4d4d">8.0</text>
<rect x="185.5" y="478.5" width="377.5" height="84.3" fill="#fff" stroke="#000" stroke-width="5"/>
<text x="374.2" y="536.8" font-size="44.8" text-anchor="middle" fill="#111">hhe_4420</text>
<line x1="183.0" y1="565.3" x2="183.0" y2="915.9" stroke="#000" stroke-width="5"/>
<line x1="169.5" y1="900.1" x2="183.0" y2="900.1" stroke="#333" stroke-width="5"/>
<text transform="translate(157.3,917.1) scale(1,1.06)" font-size="44" text-anchor="end" fill="#4d4d4d">0</text>
<line x1="169.5" y1="816.5" x2="183.0" y2="816.5" stroke="#333" stroke-width="5"/>
<text transform="translate(157.3,833.5) scale(1,1.06)" font-size="44" text-anchor="end" fill="#4d4d4d">1</text>
<line x1="169.5" y1="732.9" x2="183.0" y2="732.9" stroke="#333" stroke-width="5"/>
<text transform="translate(157.3,749.9) scale(1,1.06)" font-size="44" text-anchor="end" fill="#4d4d4d">2</text>
<line x1="169.5" y1="649.3" x2="183.0" y2="649.3" stroke="#333" stroke-width="5"/>
<text transform="translate(157.3,666.3) scale(1,1.06)" font-size="44" text-anchor="end" fill="#4d4d4d">3</text>
<line x1="169.5" y1="565.7" x2="183.0" y2="565.7" stroke="#333" stroke-width="5"/>
<text transform="translate(157.3,582.7) scale(1,1.06)" font-size="44" text-anchor="end" fill="#4d4d4d">4</text>
<line x1="182.5" y1="915.9" x2="565.5" y2="915.9" stroke="#000" stroke-width="5"/>
<line x1="292.7" y1="915.9" x2="292.7" y2="929.4" stroke="#333" stroke-width="5"/>
<text transform="translate(292.7,973.5) scale(1,1.06)" font-size="44" text-anchor="middle" fill="#4d4d4d">0.5</text>
<line x1="417.5" y1="915.9" x2="417.5" y2="929.4" stroke="#333" stroke-width="5"/>
<text transform="translate(417.5,973.5) scale(1,1.06)" font-size="44" text-anchor="middle" fill="#4d4d4d">2.0</text>
<line x1="542.3" y1="915.9" x2="542.3" y2="929.4" stroke="#333" stroke-width="5"/>
<text transform="translate(542.3,973.5) scale(1,1.06)" font-size="44" text-anchor="middle" fill="#4d4d4d">8.0</text>
<rect x="596.7" y="478.5" width="377.5" height="84.3" fill="#fff" stroke="#000" stroke-width="5"/>
<text x="785.5" y="536.8" font-size="44.8" text-anchor="middle" fill="#111">mCHD_614</text>
<line x1="593.7" y1="915.9" x2="976.7" y2="915.9" stroke="#000" stroke-width="5"/>
<line x1="703.9" y1="915.9" x2="703.9" y2="929.4" stroke="#333" stroke-width="5"/>
<text transform="translate(703.9,973.5) scale(1,1.06)" font-size="44" text-anchor="middle" fill="#4d4d4d">0.5</text>
<line x1="828.7" y1="915.9" x2="828.7" y2="929.4" stroke="#333" stroke-width="5"/>
<text transform="translate(828.7,973.5) scale(1,1.06)" font-size="44" text-anchor="middle" fill="#4d4d4d">2.0</text>
<line x1="953.5" y1="915.9" x2="953.5" y2="929.4" stroke="#333" stroke-width="5"/>
<text transform="translate(953.5,973.5) scale(1,1.06)" font-size="44" text-anchor="middle" fill="#4d4d4d">8.0</text>
<rect x="1007.9" y="478.5" width="377.5" height="84.3" fill="#fff" stroke="#000" stroke-width="5"/>
<text x="1196.7" y="536.8" font-size="44.8" text-anchor="middle" fill="#111">wes_multihit_81</text>
<line x1="1004.9" y1="915.9" x2="1387.9" y2="915.9" stroke="#000" stroke-width="5"/>
<line x1="1115.1" y1="915.9" x2="1115.1" y2="929.4" stroke="#333" stroke-width="5"/>
<text transform="translate(1115.1,973.5) scale(1,1.06)" font-size="44" text-anchor="middle" fill="#4d4d4d">0.5</text>
<line x1="1239.9" y1="915.9" x2="1239.9" y2="929.4" stroke="#333" stroke-width="5"/>
<text transform="translate(1239.9,973.5) scale(1,1.06)" font-size="44" text-anchor="middle" fill="#4d4d4d">2.0</text>
<line x1="1364.7" y1="915.9" x2="1364.7" y2="929.4" stroke="#333" stroke-width="5"/>
<text transform="translate(1364.7,973.5) scale(1,1.06)" font-size="44" text-anchor="middle" fill="#4d4d4d">8.0</text>
<text x="990.9" y="1040.2" font-size="56.2" text-anchor="middle" fill="#000">Odds ratio (cases vs controls)</text>
<text transform="translate(44.6,506) rotate(-90)" font-size="56.2" text-anchor="middle" fill="#000">Fisher's exact test p-value</text>
<text transform="translate(105.8,506) rotate(-90)" font-size="56" text-anchor="middle" fill="#000">(-log10, two-sided)</text>
<text x="1884" y="424.4" font-size="56" fill="#000">p_class</text>
<circle cx="1927.9" cy="502.4" r="8.8" fill="#cccccc"/>
<circle cx="1927.9" cy="591.1" r="8.8" fill="#000"/>
<text x="1995" y="519.5" font-size="52" fill="#000" stroke="#000" stroke-width="0.6"><tspan dy="-3">≥</tspan><tspan dy="3">0.05</tspan></text>
<text x="1999.3" y="606.9" font-size="44" fill="#000">&lt; 0.05</text>
</svg></body></html>
